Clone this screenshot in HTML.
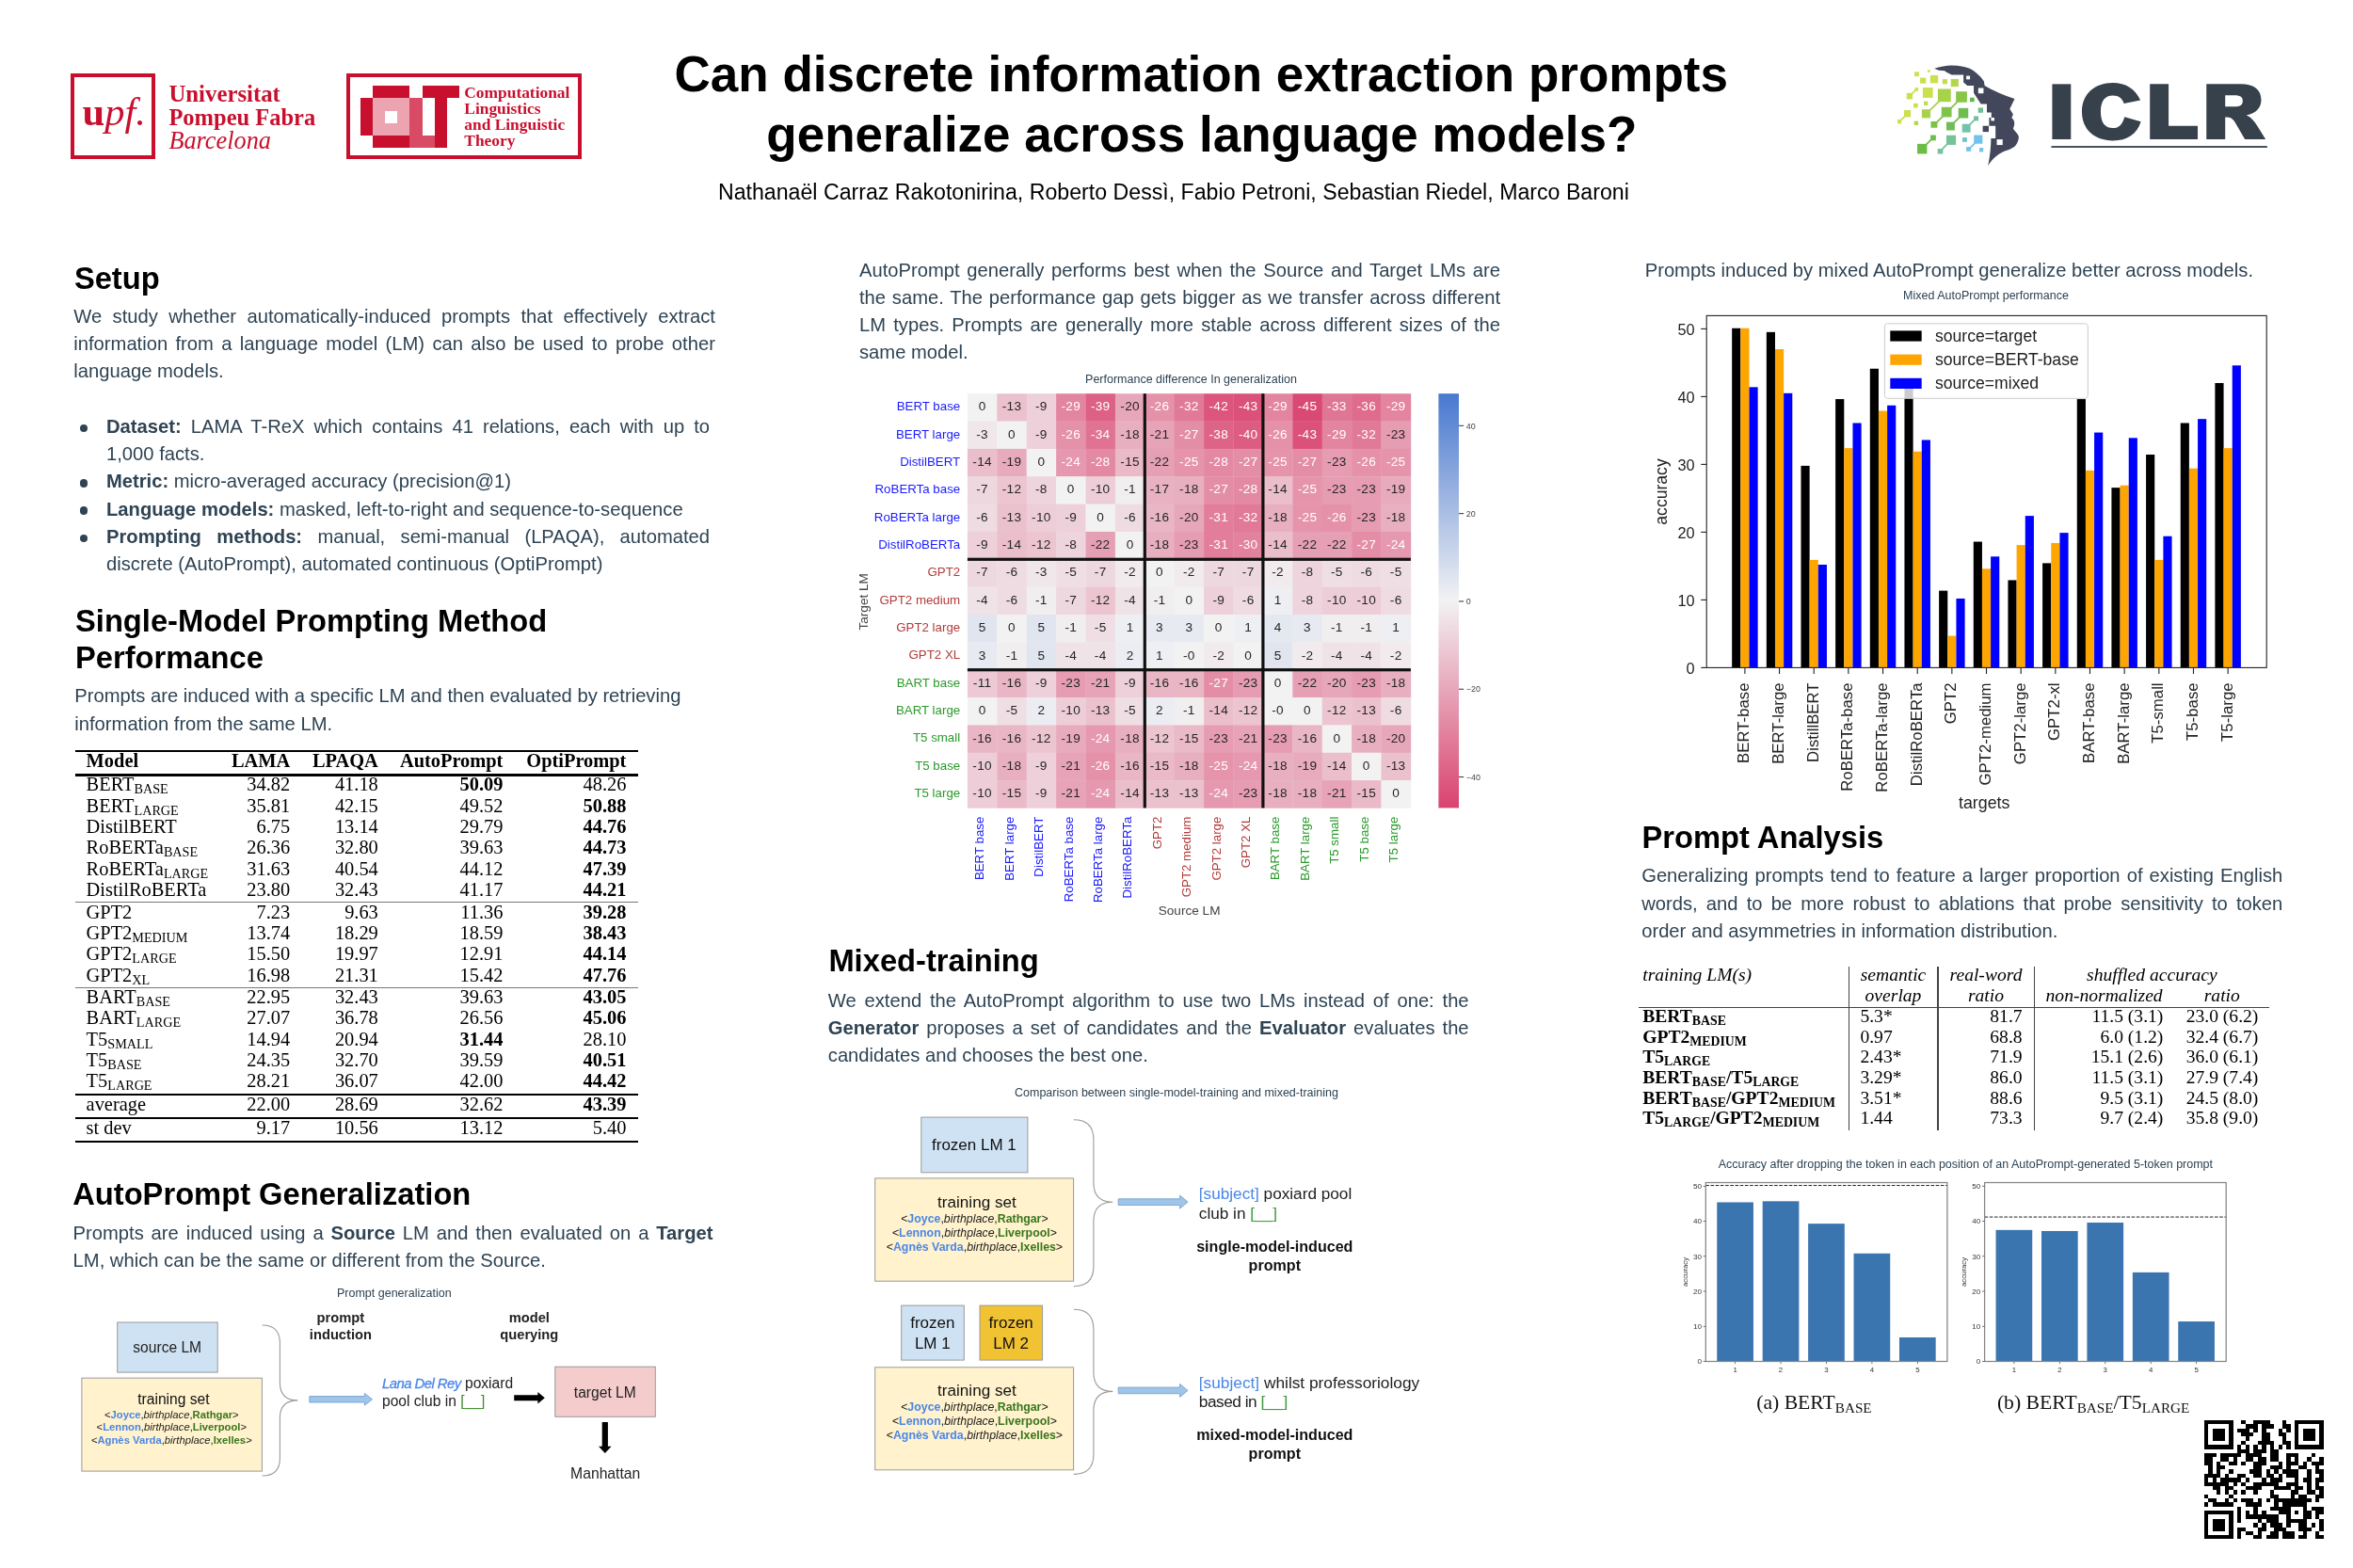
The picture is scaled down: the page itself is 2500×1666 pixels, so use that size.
<!DOCTYPE html>
<html><head><meta charset="utf-8"><title>Poster</title>
<style>
html,body{margin:0;padding:0;background:#fff;}
body{width:2500px;height:1666px;position:relative;overflow:hidden;font-family:"Liberation Sans",sans-serif;}
div{box-sizing:content-box;}
b{font-weight:bold;}
</style></head><body>
<div id="poster" style="position:absolute;left:0;top:0;width:2500px;height:1666px;overflow:hidden;will-change:transform;">
<!-- header -->
<div style="position:absolute;left:75.3px;top:78.3px;width:89.6px;height:91px;box-sizing:border-box;border:4.3px solid #c8102e;"></div>
<div style="position:absolute;left:87.50px;top:92.76px;white-space:nowrap;font-family:'Liberation Serif', serif;font-size:42.5px;line-height:51.0px;color:#c8102e;font-weight:normal;font-style:italic;text-align:left;letter-spacing:0px;"><span style="font-weight:bold;font-style:normal">u</span>pf.</div>
<div style="position:absolute;left:179.40px;top:84.95px;white-space:nowrap;font-family:'Liberation Serif', serif;font-size:24.8px;line-height:29.76px;color:#c8102e;font-weight:bold;font-style:normal;text-align:left;">Universitat</div>
<div style="position:absolute;left:179.40px;top:109.63px;white-space:nowrap;font-family:'Liberation Serif', serif;font-size:24.5px;line-height:29.4px;color:#c8102e;font-weight:bold;font-style:normal;text-align:left;">Pompeu Fabra</div>
<div style="position:absolute;left:179.40px;top:133.54px;white-space:nowrap;font-family:'Liberation Serif', serif;font-size:26.3px;line-height:31.56px;color:#c8102e;font-weight:normal;font-style:italic;text-align:left;">Barcelona</div>
<div style="position:absolute;left:368px;top:78.3px;width:249.8px;height:91px;box-sizing:border-box;border:4.6px solid #c8102e;"></div>
<div style="position:absolute;left:395.80px;top:91.10px;width:39.60px;height:13.20px;background:#c8102e;"></div>
<div style="position:absolute;left:382.60px;top:104.30px;width:13.20px;height:39.60px;background:#c8102e;"></div>
<div style="position:absolute;left:395.80px;top:104.30px;width:39.60px;height:39.60px;background:#eba4b0;"></div>
<div style="position:absolute;left:409.00px;top:117.50px;width:13.20px;height:13.20px;background:#fff;"></div>
<div style="position:absolute;left:395.80px;top:143.90px;width:39.60px;height:13.20px;background:#c8102e;"></div>
<div style="position:absolute;left:435.40px;top:104.30px;width:13.20px;height:52.80px;background:#d94a64;"></div>
<div style="position:absolute;left:435.40px;top:143.90px;width:26.40px;height:13.20px;background:#d94a64;"></div>
<div style="position:absolute;left:448.60px;top:91.10px;width:39.60px;height:13.20px;background:#c8102e;"></div>
<div style="position:absolute;left:461.80px;top:91.10px;width:13.20px;height:66.00px;background:#c8102e;"></div>
<div style="position:absolute;left:493.30px;top:87.89px;white-space:nowrap;font-family:'Liberation Serif', serif;font-size:17.4px;line-height:20.88px;color:#c8102e;font-weight:bold;font-style:normal;text-align:left;">Computational</div>
<div style="position:absolute;left:493.30px;top:104.99px;white-space:nowrap;font-family:'Liberation Serif', serif;font-size:17.4px;line-height:20.88px;color:#c8102e;font-weight:bold;font-style:normal;text-align:left;">Linguistics</div>
<div style="position:absolute;left:493.30px;top:122.09px;white-space:nowrap;font-family:'Liberation Serif', serif;font-size:17.4px;line-height:20.88px;color:#c8102e;font-weight:bold;font-style:normal;text-align:left;">and Linguistic</div>
<div style="position:absolute;left:493.30px;top:139.19px;white-space:nowrap;font-family:'Liberation Serif', serif;font-size:17.4px;line-height:20.88px;color:#c8102e;font-weight:bold;font-style:normal;text-align:left;">Theory</div>
<div style="position:absolute;left:676.30px;top:47.42px;width:1200px;font-family:'Liberation Sans', sans-serif;font-size:53.02px;line-height:63.62px;color:#000;font-weight:bold;font-style:normal;text-align:center;">Can discrete information extraction prompts</div>
<div style="position:absolute;left:676.90px;top:111.02px;width:1200px;font-family:'Liberation Sans', sans-serif;font-size:53.02px;line-height:63.62px;color:#000;font-weight:bold;font-style:normal;text-align:center;">generalize across language models?</div>
<div style="position:absolute;left:646.90px;top:190.68px;width:1200px;font-family:'Liberation Sans', sans-serif;font-size:23.16px;line-height:27.79px;color:#000;font-weight:normal;font-style:normal;text-align:center;">Nathanaël Carraz Rakotonirina, Roberto Dessì, Fabio Petroni, Sebastian Riedel, Marco Baroni</div>
<svg style="position:absolute;left:2170px;top:75px;width:250px;height:90px" viewBox="0 0 2353 847"><rect x="98" y="135" width="187" height="552" fill="#37414c"/><path fill="#37414c" d="M980,297 C930,180 830,122 705,122 C520,122 395,235 395,410 C395,590 520,700 705,700 C850,700 945,635 985,510 L822,463 C800,540 765,575 705,575 C625,575 583,520 583,410 C583,305 625,250 705,250 C765,250 800,280 815,330 Z"/><path fill="#37414c" d="M1075,135 L1262,135 L1262,552 L1553,552 L1553,687 L1075,687 Z"/><path fill="#37414c" fill-rule="evenodd" d="M1640,135 L1985,135 C2120,135 2188,195 2188,295 C2188,375 2135,430 2040,447 C2085,465 2120,505 2150,555 L2232,687 L2025,687 L1925,515 C1900,475 1880,465 1828,465 L1828,687 L1640,687 Z M1828,248 L1920,248 C1985,248 2003,270 2003,303 C2003,340 1985,360 1915,360 L1828,360 Z"/><rect x="88" y="752" width="2162" height="20" rx="8" fill="#4a525d"/></svg>
<!-- iclr -->
<svg style="position:absolute;left:2005px;top:60px;width:150px;height:125px" viewBox="0 0 1882 1568">
<path fill="#42475b" d="M630,160 C700,135 790,118 860,118 C960,118 1040,135 1100,160 C1180,200 1250,270 1290,330 L1300,390 C1400,450 1560,520 1700,565 L1635,700 L1680,770 L1660,820 C1700,850 1710,900 1680,960 C1700,1000 1760,1040 1755,1085 C1750,1130 1730,1170 1700,1200 C1660,1230 1610,1245 1560,1265 C1480,1300 1400,1370 1345,1455 C1370,1340 1385,1200 1385,1090 L1445,1090 L1445,925 L1360,925 L1360,815 L1390,815 L1390,745 L1330,745 L1330,632 L1250,632 L1155,485 L1155,388 L1070,388 L1018,345 L1018,245 L860,245 L780,205 L770,190 L690,185 Z"/>
<rect x="1055" y="258" width="50" height="47" fill="#fff"/>
<rect x="1215" y="420" width="70" height="72" fill="#fff"/>
<rect x="1385" y="815" width="45" height="43" fill="#fff"/>
<rect x="1462" y="1105" width="78" height="75" fill="#fff"/>
<rect x="1275" y="925" width="80" height="80" fill="#42475b"/>
<line x1="392" y1="437" x2="300" y2="528" stroke="#cbe04c" stroke-width="22"/>
<line x1="700" y1="590" x2="560" y2="725" stroke="#a9d24b" stroke-width="22"/>
<line x1="940" y1="600" x2="840" y2="700" stroke="#88c648" stroke-width="22"/>
<line x1="745" y1="795" x2="650" y2="890" stroke="#7cc247" stroke-width="22"/>
<line x1="965" y1="810" x2="880" y2="895" stroke="#6fbd55" stroke-width="22"/>
<line x1="245" y1="790" x2="165" y2="867" stroke="#cbe04c" stroke-width="22"/>
<line x1="1180" y1="830" x2="1090" y2="920" stroke="#72c2a4" stroke-width="22"/>
<line x1="600" y1="1095" x2="510" y2="1185" stroke="#6cbd49" stroke-width="22"/>
<line x1="810" y1="1160" x2="720" y2="1250" stroke="#76c39c" stroke-width="22"/>
<line x1="1175" y1="1150" x2="1095" y2="1230" stroke="#72c3e9" stroke-width="22"/>
<rect x="365" y="205" width="60" height="60" fill="#cbe04c"/>
<rect x="540" y="178" width="33" height="34" fill="#cde24f"/>
<rect x="440" y="283" width="78" height="77" fill="#cbe04c"/>
<rect x="575" y="250" width="105" height="105" fill="#cbe04c"/>
<rect x="737" y="303" width="66" height="65" fill="#c3dd4d"/>
<rect x="850" y="300" width="102" height="102" fill="#b3d64b"/>
<rect x="370" y="415" width="45" height="45" fill="#cbe04c"/>
<rect x="260" y="487" width="80" height="83" fill="#cbe04c"/>
<rect x="475" y="415" width="135" height="135" fill="#cbe04c"/>
<rect x="677" y="432" width="173" height="173" fill="#a9d24b"/>
<rect x="918" y="467" width="147" height="145" fill="#88c648"/>
<rect x="1105" y="548" width="58" height="57" fill="#5cb848"/>
<rect x="352" y="625" width="58" height="58" fill="#cbe04c"/>
<rect x="490" y="598" width="53" height="54" fill="#bfdc4c"/>
<rect x="463" y="705" width="115" height="115" fill="#a9d24b"/>
<rect x="725" y="675" width="135" height="133" fill="#7fc34a"/>
<rect x="950" y="688" width="132" height="134" fill="#6fbd50"/>
<rect x="1213" y="683" width="67" height="67" fill="#6ec08e"/>
<rect x="225" y="715" width="90" height="93" fill="#cbe04c"/>
<rect x="138" y="840" width="52" height="55" fill="#cbe04c"/>
<rect x="360" y="862" width="55" height="53" fill="#b3d64b"/>
<rect x="583" y="865" width="87" height="85" fill="#7cc247"/>
<rect x="790" y="873" width="112" height="112" fill="#6fbd58"/>
<rect x="1155" y="795" width="63" height="63" fill="#72c2a0"/>
<rect x="1000" y="900" width="112" height="112" fill="#72c3aa"/>
<rect x="578" y="1048" width="72" height="72" fill="#6fbd4c"/>
<rect x="402" y="1165" width="130" height="133" fill="#6abd47"/>
<rect x="790" y="1050" width="127" height="128" fill="#76c39a"/>
<rect x="673" y="1230" width="72" height="68" fill="#76c3a0"/>
<rect x="1005" y="1080" width="60" height="60" fill="#72c3c0"/>
<rect x="1157" y="1048" width="115" height="115" fill="#72c3e8"/>
<rect x="1055" y="1205" width="63" height="60" fill="#72c3ea"/>
<rect x="1230" y="1218" width="52" height="54" fill="#72c3ea"/>
</svg>
<!-- left -->
<div style="position:absolute;left:78.90px;top:275.57px;white-space:nowrap;font-family:'Liberation Sans', sans-serif;font-size:32.7px;line-height:40px;color:#000;font-weight:bold;font-style:normal;text-align:left;">Setup</div>
<div style="position:absolute;left:78.30px;top:322.00px;width:681.6px;font-family:'Liberation Sans', sans-serif;font-size:20.2px;line-height:29.2px;color:#2e4353;font-weight:normal;font-style:normal;text-align:justify;text-align-last:justify;white-space:nowrap;">We study whether automatically-induced prompts that effectively extract</div>
<div style="position:absolute;left:78.30px;top:351.20px;width:681.6px;font-family:'Liberation Sans', sans-serif;font-size:20.2px;line-height:29.2px;color:#2e4353;font-weight:normal;font-style:normal;text-align:justify;text-align-last:justify;white-space:nowrap;">information from a language model (LM) can also be used to probe other</div>
<div style="position:absolute;left:78.30px;top:380.40px;width:681.6px;font-family:'Liberation Sans', sans-serif;font-size:20.2px;line-height:29.2px;color:#2e4353;font-weight:normal;font-style:normal;text-align:left;white-space:nowrap;">language models.</div>
<div style="position:absolute;left:113.00px;top:439.20px;width:641px;font-family:'Liberation Sans', sans-serif;font-size:20.2px;line-height:29.2px;color:#2e4353;font-weight:normal;font-style:normal;text-align:justify;text-align-last:justify;white-space:nowrap;"><b>Dataset:</b> LAMA T-ReX which contains 41 relations, each with up to</div>
<div style="position:absolute;left:113.00px;top:468.40px;width:641px;font-family:'Liberation Sans', sans-serif;font-size:20.2px;line-height:29.2px;color:#2e4353;font-weight:normal;font-style:normal;text-align:left;white-space:nowrap;">1,000 facts.</div>
<div style="position:absolute;left:84.80px;top:450.80px;width:8.6px;height:8.6px;border-radius:50%;background:#2e4353"></div>
<div style="position:absolute;left:113.00px;top:497.40px;width:641px;font-family:'Liberation Sans', sans-serif;font-size:20.2px;line-height:29.2px;color:#2e4353;font-weight:normal;font-style:normal;text-align:left;white-space:nowrap;"><b>Metric:</b> micro-averaged accuracy (precision@1)</div>
<div style="position:absolute;left:84.80px;top:509.00px;width:8.6px;height:8.6px;border-radius:50%;background:#2e4353"></div>
<div style="position:absolute;left:113.00px;top:526.60px;width:641px;font-family:'Liberation Sans', sans-serif;font-size:20.2px;line-height:29.2px;color:#2e4353;font-weight:normal;font-style:normal;text-align:left;white-space:nowrap;"><b>Language models:</b> masked, left-to-right and sequence-to-sequence</div>
<div style="position:absolute;left:84.80px;top:538.20px;width:8.6px;height:8.6px;border-radius:50%;background:#2e4353"></div>
<div style="position:absolute;left:113.00px;top:555.90px;width:641px;font-family:'Liberation Sans', sans-serif;font-size:20.2px;line-height:29.2px;color:#2e4353;font-weight:normal;font-style:normal;text-align:justify;text-align-last:justify;white-space:nowrap;"><b>Prompting methods:</b> manual, semi-manual (LPAQA), automated</div>
<div style="position:absolute;left:113.00px;top:585.10px;width:641px;font-family:'Liberation Sans', sans-serif;font-size:20.2px;line-height:29.2px;color:#2e4353;font-weight:normal;font-style:normal;text-align:left;white-space:nowrap;">discrete (AutoPrompt), automated continuous (OptiPrompt)</div>
<div style="position:absolute;left:84.80px;top:567.50px;width:8.6px;height:8.6px;border-radius:50%;background:#2e4353"></div>
<div style="position:absolute;left:80.00px;top:639.57px;white-space:nowrap;font-family:'Liberation Sans', sans-serif;font-size:32.7px;line-height:40px;color:#000;font-weight:bold;font-style:normal;text-align:left;">Single-Model Prompting Method</div>
<div style="position:absolute;left:80.00px;top:679.07px;white-space:nowrap;font-family:'Liberation Sans', sans-serif;font-size:32.7px;line-height:40px;color:#000;font-weight:bold;font-style:normal;text-align:left;">Performance</div>
<div style="position:absolute;left:79.30px;top:725.30px;width:690px;font-family:'Liberation Sans', sans-serif;font-size:20.2px;line-height:29.2px;color:#2e4353;font-weight:normal;font-style:normal;text-align:left;white-space:nowrap;">Prompts are induced with a specific LM and then evaluated by retrieving</div>
<div style="position:absolute;left:79.30px;top:754.50px;width:690px;font-family:'Liberation Sans', sans-serif;font-size:20.2px;line-height:29.2px;color:#2e4353;font-weight:normal;font-style:normal;text-align:left;white-space:nowrap;">information from the same LM.</div>
<div style="position:absolute;left:79.50px;top:796.55px;width:598.40px;height:2.70px;background:#000;"></div>
<div style="position:absolute;left:79.50px;top:821.85px;width:598.40px;height:2.70px;background:#000;"></div>
<div style="position:absolute;left:79.50px;top:958.20px;width:598.40px;height:1.20px;background:#777;"></div>
<div style="position:absolute;left:79.50px;top:1048.60px;width:598.40px;height:1.20px;background:#777;"></div>
<div style="position:absolute;left:79.50px;top:1162.25px;width:598.40px;height:1.90px;background:#000;"></div>
<div style="position:absolute;left:79.50px;top:1186.60px;width:598.40px;height:2.00px;background:#000;"></div>
<div style="position:absolute;left:79.50px;top:1211.70px;width:598.40px;height:2.20px;background:#000;"></div>
<div style="position:absolute;left:91.60px;top:795.77px;white-space:nowrap;font-family:'Liberation Serif', serif;font-size:20.4px;line-height:24.48px;color:#000;font-weight:bold;font-style:normal;text-align:left;">Model</div>
<div style="position:absolute;left:-291.80px;top:795.77px;width:600px;font-family:'Liberation Serif', serif;font-size:20.4px;line-height:24.48px;color:#000;font-weight:bold;font-style:normal;text-align:right;">LAMA</div>
<div style="position:absolute;left:-198.20px;top:795.77px;width:600px;font-family:'Liberation Serif', serif;font-size:20.4px;line-height:24.48px;color:#000;font-weight:bold;font-style:normal;text-align:right;">LPAQA</div>
<div style="position:absolute;left:-65.60px;top:795.77px;width:600px;font-family:'Liberation Serif', serif;font-size:20.4px;line-height:24.48px;color:#000;font-weight:bold;font-style:normal;text-align:right;">AutoPrompt</div>
<div style="position:absolute;left:65.40px;top:795.77px;width:600px;font-family:'Liberation Serif', serif;font-size:20.4px;line-height:24.48px;color:#000;font-weight:bold;font-style:normal;text-align:right;">OptiPrompt</div>
<div style="position:absolute;left:91.60px;top:821.17px;white-space:nowrap;font-family:'Liberation Serif', serif;font-size:20.4px;line-height:24.48px;color:#000;font-weight:normal;font-style:normal;text-align:left;">BERT<span style="font-size:14.2px;position:relative;top:3.0px;line-height:0">BASE</span></div>
<div style="position:absolute;left:-291.80px;top:821.17px;width:600px;font-family:'Liberation Serif', serif;font-size:20.4px;line-height:24.48px;color:#000;font-weight:normal;font-style:normal;text-align:right;">34.82</div>
<div style="position:absolute;left:-198.20px;top:821.17px;width:600px;font-family:'Liberation Serif', serif;font-size:20.4px;line-height:24.48px;color:#000;font-weight:normal;font-style:normal;text-align:right;">41.18</div>
<div style="position:absolute;left:-65.60px;top:821.17px;width:600px;font-family:'Liberation Serif', serif;font-size:20.4px;line-height:24.48px;color:#000;font-weight:bold;font-style:normal;text-align:right;">50.09</div>
<div style="position:absolute;left:65.40px;top:821.17px;width:600px;font-family:'Liberation Serif', serif;font-size:20.4px;line-height:24.48px;color:#000;font-weight:normal;font-style:normal;text-align:right;">48.26</div>
<div style="position:absolute;left:91.60px;top:843.58px;white-space:nowrap;font-family:'Liberation Serif', serif;font-size:20.4px;line-height:24.48px;color:#000;font-weight:normal;font-style:normal;text-align:left;">BERT<span style="font-size:14.2px;position:relative;top:3.0px;line-height:0">LARGE</span></div>
<div style="position:absolute;left:-291.80px;top:843.58px;width:600px;font-family:'Liberation Serif', serif;font-size:20.4px;line-height:24.48px;color:#000;font-weight:normal;font-style:normal;text-align:right;">35.81</div>
<div style="position:absolute;left:-198.20px;top:843.58px;width:600px;font-family:'Liberation Serif', serif;font-size:20.4px;line-height:24.48px;color:#000;font-weight:normal;font-style:normal;text-align:right;">42.15</div>
<div style="position:absolute;left:-65.60px;top:843.58px;width:600px;font-family:'Liberation Serif', serif;font-size:20.4px;line-height:24.48px;color:#000;font-weight:normal;font-style:normal;text-align:right;">49.52</div>
<div style="position:absolute;left:65.40px;top:843.58px;width:600px;font-family:'Liberation Serif', serif;font-size:20.4px;line-height:24.48px;color:#000;font-weight:bold;font-style:normal;text-align:right;">50.88</div>
<div style="position:absolute;left:91.60px;top:865.98px;white-space:nowrap;font-family:'Liberation Serif', serif;font-size:20.4px;line-height:24.48px;color:#000;font-weight:normal;font-style:normal;text-align:left;">DistilBERT</div>
<div style="position:absolute;left:-291.80px;top:865.98px;width:600px;font-family:'Liberation Serif', serif;font-size:20.4px;line-height:24.48px;color:#000;font-weight:normal;font-style:normal;text-align:right;">6.75</div>
<div style="position:absolute;left:-198.20px;top:865.98px;width:600px;font-family:'Liberation Serif', serif;font-size:20.4px;line-height:24.48px;color:#000;font-weight:normal;font-style:normal;text-align:right;">13.14</div>
<div style="position:absolute;left:-65.60px;top:865.98px;width:600px;font-family:'Liberation Serif', serif;font-size:20.4px;line-height:24.48px;color:#000;font-weight:normal;font-style:normal;text-align:right;">29.79</div>
<div style="position:absolute;left:65.40px;top:865.98px;width:600px;font-family:'Liberation Serif', serif;font-size:20.4px;line-height:24.48px;color:#000;font-weight:bold;font-style:normal;text-align:right;">44.76</div>
<div style="position:absolute;left:91.60px;top:888.27px;white-space:nowrap;font-family:'Liberation Serif', serif;font-size:20.4px;line-height:24.48px;color:#000;font-weight:normal;font-style:normal;text-align:left;">RoBERTa<span style="font-size:14.2px;position:relative;top:3.0px;line-height:0">BASE</span></div>
<div style="position:absolute;left:-291.80px;top:888.27px;width:600px;font-family:'Liberation Serif', serif;font-size:20.4px;line-height:24.48px;color:#000;font-weight:normal;font-style:normal;text-align:right;">26.36</div>
<div style="position:absolute;left:-198.20px;top:888.27px;width:600px;font-family:'Liberation Serif', serif;font-size:20.4px;line-height:24.48px;color:#000;font-weight:normal;font-style:normal;text-align:right;">32.80</div>
<div style="position:absolute;left:-65.60px;top:888.27px;width:600px;font-family:'Liberation Serif', serif;font-size:20.4px;line-height:24.48px;color:#000;font-weight:normal;font-style:normal;text-align:right;">39.63</div>
<div style="position:absolute;left:65.40px;top:888.27px;width:600px;font-family:'Liberation Serif', serif;font-size:20.4px;line-height:24.48px;color:#000;font-weight:bold;font-style:normal;text-align:right;">44.73</div>
<div style="position:absolute;left:91.60px;top:910.67px;white-space:nowrap;font-family:'Liberation Serif', serif;font-size:20.4px;line-height:24.48px;color:#000;font-weight:normal;font-style:normal;text-align:left;">RoBERTa<span style="font-size:14.2px;position:relative;top:3.0px;line-height:0">LARGE</span></div>
<div style="position:absolute;left:-291.80px;top:910.67px;width:600px;font-family:'Liberation Serif', serif;font-size:20.4px;line-height:24.48px;color:#000;font-weight:normal;font-style:normal;text-align:right;">31.63</div>
<div style="position:absolute;left:-198.20px;top:910.67px;width:600px;font-family:'Liberation Serif', serif;font-size:20.4px;line-height:24.48px;color:#000;font-weight:normal;font-style:normal;text-align:right;">40.54</div>
<div style="position:absolute;left:-65.60px;top:910.67px;width:600px;font-family:'Liberation Serif', serif;font-size:20.4px;line-height:24.48px;color:#000;font-weight:normal;font-style:normal;text-align:right;">44.12</div>
<div style="position:absolute;left:65.40px;top:910.67px;width:600px;font-family:'Liberation Serif', serif;font-size:20.4px;line-height:24.48px;color:#000;font-weight:bold;font-style:normal;text-align:right;">47.39</div>
<div style="position:absolute;left:91.60px;top:933.08px;white-space:nowrap;font-family:'Liberation Serif', serif;font-size:20.4px;line-height:24.48px;color:#000;font-weight:normal;font-style:normal;text-align:left;">DistilRoBERTa</div>
<div style="position:absolute;left:-291.80px;top:933.08px;width:600px;font-family:'Liberation Serif', serif;font-size:20.4px;line-height:24.48px;color:#000;font-weight:normal;font-style:normal;text-align:right;">23.80</div>
<div style="position:absolute;left:-198.20px;top:933.08px;width:600px;font-family:'Liberation Serif', serif;font-size:20.4px;line-height:24.48px;color:#000;font-weight:normal;font-style:normal;text-align:right;">32.43</div>
<div style="position:absolute;left:-65.60px;top:933.08px;width:600px;font-family:'Liberation Serif', serif;font-size:20.4px;line-height:24.48px;color:#000;font-weight:normal;font-style:normal;text-align:right;">41.17</div>
<div style="position:absolute;left:65.40px;top:933.08px;width:600px;font-family:'Liberation Serif', serif;font-size:20.4px;line-height:24.48px;color:#000;font-weight:bold;font-style:normal;text-align:right;">44.21</div>
<div style="position:absolute;left:91.60px;top:956.67px;white-space:nowrap;font-family:'Liberation Serif', serif;font-size:20.4px;line-height:24.48px;color:#000;font-weight:normal;font-style:normal;text-align:left;">GPT2</div>
<div style="position:absolute;left:-291.80px;top:956.67px;width:600px;font-family:'Liberation Serif', serif;font-size:20.4px;line-height:24.48px;color:#000;font-weight:normal;font-style:normal;text-align:right;">7.23</div>
<div style="position:absolute;left:-198.20px;top:956.67px;width:600px;font-family:'Liberation Serif', serif;font-size:20.4px;line-height:24.48px;color:#000;font-weight:normal;font-style:normal;text-align:right;">9.63</div>
<div style="position:absolute;left:-65.60px;top:956.67px;width:600px;font-family:'Liberation Serif', serif;font-size:20.4px;line-height:24.48px;color:#000;font-weight:normal;font-style:normal;text-align:right;">11.36</div>
<div style="position:absolute;left:65.40px;top:956.67px;width:600px;font-family:'Liberation Serif', serif;font-size:20.4px;line-height:24.48px;color:#000;font-weight:bold;font-style:normal;text-align:right;">39.28</div>
<div style="position:absolute;left:91.60px;top:978.98px;white-space:nowrap;font-family:'Liberation Serif', serif;font-size:20.4px;line-height:24.48px;color:#000;font-weight:normal;font-style:normal;text-align:left;">GPT2<span style="font-size:14.2px;position:relative;top:3.0px;line-height:0">MEDIUM</span></div>
<div style="position:absolute;left:-291.80px;top:978.98px;width:600px;font-family:'Liberation Serif', serif;font-size:20.4px;line-height:24.48px;color:#000;font-weight:normal;font-style:normal;text-align:right;">13.74</div>
<div style="position:absolute;left:-198.20px;top:978.98px;width:600px;font-family:'Liberation Serif', serif;font-size:20.4px;line-height:24.48px;color:#000;font-weight:normal;font-style:normal;text-align:right;">18.29</div>
<div style="position:absolute;left:-65.60px;top:978.98px;width:600px;font-family:'Liberation Serif', serif;font-size:20.4px;line-height:24.48px;color:#000;font-weight:normal;font-style:normal;text-align:right;">18.59</div>
<div style="position:absolute;left:65.40px;top:978.98px;width:600px;font-family:'Liberation Serif', serif;font-size:20.4px;line-height:24.48px;color:#000;font-weight:bold;font-style:normal;text-align:right;">38.43</div>
<div style="position:absolute;left:91.60px;top:1001.38px;white-space:nowrap;font-family:'Liberation Serif', serif;font-size:20.4px;line-height:24.48px;color:#000;font-weight:normal;font-style:normal;text-align:left;">GPT2<span style="font-size:14.2px;position:relative;top:3.0px;line-height:0">LARGE</span></div>
<div style="position:absolute;left:-291.80px;top:1001.38px;width:600px;font-family:'Liberation Serif', serif;font-size:20.4px;line-height:24.48px;color:#000;font-weight:normal;font-style:normal;text-align:right;">15.50</div>
<div style="position:absolute;left:-198.20px;top:1001.38px;width:600px;font-family:'Liberation Serif', serif;font-size:20.4px;line-height:24.48px;color:#000;font-weight:normal;font-style:normal;text-align:right;">19.97</div>
<div style="position:absolute;left:-65.60px;top:1001.38px;width:600px;font-family:'Liberation Serif', serif;font-size:20.4px;line-height:24.48px;color:#000;font-weight:normal;font-style:normal;text-align:right;">12.91</div>
<div style="position:absolute;left:65.40px;top:1001.38px;width:600px;font-family:'Liberation Serif', serif;font-size:20.4px;line-height:24.48px;color:#000;font-weight:bold;font-style:normal;text-align:right;">44.14</div>
<div style="position:absolute;left:91.60px;top:1023.78px;white-space:nowrap;font-family:'Liberation Serif', serif;font-size:20.4px;line-height:24.48px;color:#000;font-weight:normal;font-style:normal;text-align:left;">GPT2<span style="font-size:14.2px;position:relative;top:3.0px;line-height:0">XL</span></div>
<div style="position:absolute;left:-291.80px;top:1023.78px;width:600px;font-family:'Liberation Serif', serif;font-size:20.4px;line-height:24.48px;color:#000;font-weight:normal;font-style:normal;text-align:right;">16.98</div>
<div style="position:absolute;left:-198.20px;top:1023.78px;width:600px;font-family:'Liberation Serif', serif;font-size:20.4px;line-height:24.48px;color:#000;font-weight:normal;font-style:normal;text-align:right;">21.31</div>
<div style="position:absolute;left:-65.60px;top:1023.78px;width:600px;font-family:'Liberation Serif', serif;font-size:20.4px;line-height:24.48px;color:#000;font-weight:normal;font-style:normal;text-align:right;">15.42</div>
<div style="position:absolute;left:65.40px;top:1023.78px;width:600px;font-family:'Liberation Serif', serif;font-size:20.4px;line-height:24.48px;color:#000;font-weight:bold;font-style:normal;text-align:right;">47.76</div>
<div style="position:absolute;left:91.60px;top:1046.78px;white-space:nowrap;font-family:'Liberation Serif', serif;font-size:20.4px;line-height:24.48px;color:#000;font-weight:normal;font-style:normal;text-align:left;">BART<span style="font-size:14.2px;position:relative;top:3.0px;line-height:0">BASE</span></div>
<div style="position:absolute;left:-291.80px;top:1046.78px;width:600px;font-family:'Liberation Serif', serif;font-size:20.4px;line-height:24.48px;color:#000;font-weight:normal;font-style:normal;text-align:right;">22.95</div>
<div style="position:absolute;left:-198.20px;top:1046.78px;width:600px;font-family:'Liberation Serif', serif;font-size:20.4px;line-height:24.48px;color:#000;font-weight:normal;font-style:normal;text-align:right;">32.43</div>
<div style="position:absolute;left:-65.60px;top:1046.78px;width:600px;font-family:'Liberation Serif', serif;font-size:20.4px;line-height:24.48px;color:#000;font-weight:normal;font-style:normal;text-align:right;">39.63</div>
<div style="position:absolute;left:65.40px;top:1046.78px;width:600px;font-family:'Liberation Serif', serif;font-size:20.4px;line-height:24.48px;color:#000;font-weight:bold;font-style:normal;text-align:right;">43.05</div>
<div style="position:absolute;left:91.60px;top:1069.17px;white-space:nowrap;font-family:'Liberation Serif', serif;font-size:20.4px;line-height:24.48px;color:#000;font-weight:normal;font-style:normal;text-align:left;">BART<span style="font-size:14.2px;position:relative;top:3.0px;line-height:0">LARGE</span></div>
<div style="position:absolute;left:-291.80px;top:1069.17px;width:600px;font-family:'Liberation Serif', serif;font-size:20.4px;line-height:24.48px;color:#000;font-weight:normal;font-style:normal;text-align:right;">27.07</div>
<div style="position:absolute;left:-198.20px;top:1069.17px;width:600px;font-family:'Liberation Serif', serif;font-size:20.4px;line-height:24.48px;color:#000;font-weight:normal;font-style:normal;text-align:right;">36.78</div>
<div style="position:absolute;left:-65.60px;top:1069.17px;width:600px;font-family:'Liberation Serif', serif;font-size:20.4px;line-height:24.48px;color:#000;font-weight:normal;font-style:normal;text-align:right;">26.56</div>
<div style="position:absolute;left:65.40px;top:1069.17px;width:600px;font-family:'Liberation Serif', serif;font-size:20.4px;line-height:24.48px;color:#000;font-weight:bold;font-style:normal;text-align:right;">45.06</div>
<div style="position:absolute;left:91.60px;top:1091.58px;white-space:nowrap;font-family:'Liberation Serif', serif;font-size:20.4px;line-height:24.48px;color:#000;font-weight:normal;font-style:normal;text-align:left;">T5<span style="font-size:14.2px;position:relative;top:3.0px;line-height:0">SMALL</span></div>
<div style="position:absolute;left:-291.80px;top:1091.58px;width:600px;font-family:'Liberation Serif', serif;font-size:20.4px;line-height:24.48px;color:#000;font-weight:normal;font-style:normal;text-align:right;">14.94</div>
<div style="position:absolute;left:-198.20px;top:1091.58px;width:600px;font-family:'Liberation Serif', serif;font-size:20.4px;line-height:24.48px;color:#000;font-weight:normal;font-style:normal;text-align:right;">20.94</div>
<div style="position:absolute;left:-65.60px;top:1091.58px;width:600px;font-family:'Liberation Serif', serif;font-size:20.4px;line-height:24.48px;color:#000;font-weight:bold;font-style:normal;text-align:right;">31.44</div>
<div style="position:absolute;left:65.40px;top:1091.58px;width:600px;font-family:'Liberation Serif', serif;font-size:20.4px;line-height:24.48px;color:#000;font-weight:normal;font-style:normal;text-align:right;">28.10</div>
<div style="position:absolute;left:91.60px;top:1113.88px;white-space:nowrap;font-family:'Liberation Serif', serif;font-size:20.4px;line-height:24.48px;color:#000;font-weight:normal;font-style:normal;text-align:left;">T5<span style="font-size:14.2px;position:relative;top:3.0px;line-height:0">BASE</span></div>
<div style="position:absolute;left:-291.80px;top:1113.88px;width:600px;font-family:'Liberation Serif', serif;font-size:20.4px;line-height:24.48px;color:#000;font-weight:normal;font-style:normal;text-align:right;">24.35</div>
<div style="position:absolute;left:-198.20px;top:1113.88px;width:600px;font-family:'Liberation Serif', serif;font-size:20.4px;line-height:24.48px;color:#000;font-weight:normal;font-style:normal;text-align:right;">32.70</div>
<div style="position:absolute;left:-65.60px;top:1113.88px;width:600px;font-family:'Liberation Serif', serif;font-size:20.4px;line-height:24.48px;color:#000;font-weight:normal;font-style:normal;text-align:right;">39.59</div>
<div style="position:absolute;left:65.40px;top:1113.88px;width:600px;font-family:'Liberation Serif', serif;font-size:20.4px;line-height:24.48px;color:#000;font-weight:bold;font-style:normal;text-align:right;">40.51</div>
<div style="position:absolute;left:91.60px;top:1136.28px;white-space:nowrap;font-family:'Liberation Serif', serif;font-size:20.4px;line-height:24.48px;color:#000;font-weight:normal;font-style:normal;text-align:left;">T5<span style="font-size:14.2px;position:relative;top:3.0px;line-height:0">LARGE</span></div>
<div style="position:absolute;left:-291.80px;top:1136.28px;width:600px;font-family:'Liberation Serif', serif;font-size:20.4px;line-height:24.48px;color:#000;font-weight:normal;font-style:normal;text-align:right;">28.21</div>
<div style="position:absolute;left:-198.20px;top:1136.28px;width:600px;font-family:'Liberation Serif', serif;font-size:20.4px;line-height:24.48px;color:#000;font-weight:normal;font-style:normal;text-align:right;">36.07</div>
<div style="position:absolute;left:-65.60px;top:1136.28px;width:600px;font-family:'Liberation Serif', serif;font-size:20.4px;line-height:24.48px;color:#000;font-weight:normal;font-style:normal;text-align:right;">42.00</div>
<div style="position:absolute;left:65.40px;top:1136.28px;width:600px;font-family:'Liberation Serif', serif;font-size:20.4px;line-height:24.48px;color:#000;font-weight:bold;font-style:normal;text-align:right;">44.42</div>
<div style="position:absolute;left:91.60px;top:1161.28px;white-space:nowrap;font-family:'Liberation Serif', serif;font-size:20.4px;line-height:24.48px;color:#000;font-weight:normal;font-style:normal;text-align:left;">average</div>
<div style="position:absolute;left:-291.80px;top:1161.28px;width:600px;font-family:'Liberation Serif', serif;font-size:20.4px;line-height:24.48px;color:#000;font-weight:normal;font-style:normal;text-align:right;">22.00</div>
<div style="position:absolute;left:-198.20px;top:1161.28px;width:600px;font-family:'Liberation Serif', serif;font-size:20.4px;line-height:24.48px;color:#000;font-weight:normal;font-style:normal;text-align:right;">28.69</div>
<div style="position:absolute;left:-65.60px;top:1161.28px;width:600px;font-family:'Liberation Serif', serif;font-size:20.4px;line-height:24.48px;color:#000;font-weight:normal;font-style:normal;text-align:right;">32.62</div>
<div style="position:absolute;left:65.40px;top:1161.28px;width:600px;font-family:'Liberation Serif', serif;font-size:20.4px;line-height:24.48px;color:#000;font-weight:bold;font-style:normal;text-align:right;">43.39</div>
<div style="position:absolute;left:91.60px;top:1186.28px;white-space:nowrap;font-family:'Liberation Serif', serif;font-size:20.4px;line-height:24.48px;color:#000;font-weight:normal;font-style:normal;text-align:left;">st dev</div>
<div style="position:absolute;left:-291.80px;top:1186.28px;width:600px;font-family:'Liberation Serif', serif;font-size:20.4px;line-height:24.48px;color:#000;font-weight:normal;font-style:normal;text-align:right;">9.17</div>
<div style="position:absolute;left:-198.20px;top:1186.28px;width:600px;font-family:'Liberation Serif', serif;font-size:20.4px;line-height:24.48px;color:#000;font-weight:normal;font-style:normal;text-align:right;">10.56</div>
<div style="position:absolute;left:-65.60px;top:1186.28px;width:600px;font-family:'Liberation Serif', serif;font-size:20.4px;line-height:24.48px;color:#000;font-weight:normal;font-style:normal;text-align:right;">13.12</div>
<div style="position:absolute;left:65.40px;top:1186.28px;width:600px;font-family:'Liberation Serif', serif;font-size:20.4px;line-height:24.48px;color:#000;font-weight:normal;font-style:normal;text-align:right;">5.40</div>
<div style="position:absolute;left:77.20px;top:1249.07px;white-space:nowrap;font-family:'Liberation Sans', sans-serif;font-size:32.7px;line-height:40px;color:#000;font-weight:bold;font-style:normal;text-align:left;">AutoPrompt Generalization</div>
<div style="position:absolute;left:77.60px;top:1295.80px;width:679.9px;font-family:'Liberation Sans', sans-serif;font-size:20.2px;line-height:29.2px;color:#2e4353;font-weight:normal;font-style:normal;text-align:justify;text-align-last:justify;white-space:nowrap;">Prompts are induced using a <b>Source</b> LM and then evaluated on a <b>Target</b></div>
<div style="position:absolute;left:77.60px;top:1325.00px;width:679.9px;font-family:'Liberation Sans', sans-serif;font-size:20.2px;line-height:29.2px;color:#2e4353;font-weight:normal;font-style:normal;text-align:left;white-space:nowrap;">LM, which can be the same or different from the Source.</div>
<div style="position:absolute;left:-181.20px;top:1366.87px;width:1200px;font-family:'Liberation Sans', sans-serif;font-size:12.5px;line-height:15.0px;color:#2e4353;font-weight:normal;font-style:normal;text-align:center;">Prompt generalization</div>
<!-- diag -->
<svg style="position:absolute;left:0;top:0;width:2500px;height:1666px" viewBox="0 0 2500 1666"><rect x="124.70" y="1405.00" width="106.50" height="53.10" fill="#cfe2f3" stroke="#9a9a9a" stroke-width="1"/><rect x="86.90" y="1464.20" width="191.50" height="98.90" fill="#fff2cc" stroke="#9a9a9a" stroke-width="1"/><rect x="589.80" y="1452.20" width="106.50" height="53.10" fill="#f4cccc" stroke="#9a9a9a" stroke-width="1"/><rect x="978.80" y="1187.10" width="113.10" height="58.70" fill="#cfe2f3" stroke="#9a9a9a" stroke-width="1"/><rect x="929.70" y="1251.90" width="210.90" height="109.30" fill="#fff2cc" stroke="#9a9a9a" stroke-width="1"/><rect x="957.70" y="1387.10" width="66.60" height="58.00" fill="#cfe2f3" stroke="#9a9a9a" stroke-width="1"/><rect x="1041.00" y="1387.10" width="66.60" height="58.00" fill="#f1c232" stroke="#9a9a9a" stroke-width="1"/><rect x="929.70" y="1452.80" width="210.90" height="109.00" fill="#fff2cc" stroke="#9a9a9a" stroke-width="1"/></svg>
<div style="position:absolute;left:-422.30px;top:1422.83px;width:1200px;font-family:'Liberation Sans', sans-serif;font-size:15.6px;line-height:18.72px;color:#222;font-weight:normal;font-style:normal;text-align:center;">source LM</div>
<div style="position:absolute;left:-415.60px;top:1477.63px;width:1200px;font-family:'Liberation Sans', sans-serif;font-size:15.6px;line-height:18.72px;color:#111;font-weight:normal;font-style:normal;text-align:center;">training set</div>
<div style="position:absolute;left:-417.70px;top:1496.55px;width:1200px;font-family:'Liberation Sans', sans-serif;font-size:11.25px;line-height:13.5px;color:#222;font-weight:normal;font-style:normal;text-align:center;">&lt;<b style="color:#4a86e8">Joyce</b>,<i>birthplace</i>,<b style="color:#38761d">Rathgar</b>&gt;</div>
<div style="position:absolute;left:-417.70px;top:1510.15px;width:1200px;font-family:'Liberation Sans', sans-serif;font-size:11.25px;line-height:13.5px;color:#222;font-weight:normal;font-style:normal;text-align:center;">&lt;<b style="color:#4a86e8">Lennon</b>,<i>birthplace</i>,<b style="color:#38761d">Liverpool</b>&gt;</div>
<div style="position:absolute;left:-417.70px;top:1523.75px;width:1200px;font-family:'Liberation Sans', sans-serif;font-size:11.25px;line-height:13.5px;color:#222;font-weight:normal;font-style:normal;text-align:center;">&lt;<b style="color:#4a86e8">Agnès Varda</b>,<i>birthplace</i>,<b style="color:#38761d">Ixelles</b>&gt;</div>
<div style="position:absolute;left:-238.10px;top:1391.69px;width:1200px;font-family:'Liberation Sans', sans-serif;font-size:14.7px;line-height:17.64px;color:#222;font-weight:bold;font-style:normal;text-align:center;">prompt</div>
<div style="position:absolute;left:-238.10px;top:1410.39px;width:1200px;font-family:'Liberation Sans', sans-serif;font-size:14.7px;line-height:17.64px;color:#222;font-weight:bold;font-style:normal;text-align:center;">induction</div>
<div style="position:absolute;left:-37.70px;top:1391.69px;width:1200px;font-family:'Liberation Sans', sans-serif;font-size:14.7px;line-height:17.64px;color:#222;font-weight:bold;font-style:normal;text-align:center;">model</div>
<div style="position:absolute;left:-37.70px;top:1410.39px;width:1200px;font-family:'Liberation Sans', sans-serif;font-size:14.7px;line-height:17.64px;color:#222;font-weight:bold;font-style:normal;text-align:center;">querying</div>
<div style="position:absolute;left:406.00px;top:1461.23px;white-space:nowrap;font-family:'Liberation Sans', sans-serif;font-size:15.6px;line-height:18.72px;color:#222;font-weight:normal;font-style:normal;text-align:left;"><i style="color:#4a86e8;font-size:14.9px;letter-spacing:-0.55px;-webkit-text-stroke:0.3px #4a86e8">Lana Del Rey</i> poxiard</div>
<div style="position:absolute;left:406.00px;top:1480.13px;white-space:nowrap;font-family:'Liberation Sans', sans-serif;font-size:15.6px;line-height:18.72px;color:#222;font-weight:normal;font-style:normal;text-align:left;">pool club in <span style="color:#3d8a2d">[__]</span></div>
<div style="position:absolute;left:42.80px;top:1470.83px;width:1200px;font-family:'Liberation Sans', sans-serif;font-size:15.6px;line-height:18.72px;color:#222;font-weight:normal;font-style:normal;text-align:center;">target LM</div>
<div style="position:absolute;left:43.20px;top:1557.14px;width:1200px;font-family:'Liberation Sans', sans-serif;font-size:15.7px;line-height:18.84px;color:#222;font-weight:normal;font-style:normal;text-align:center;">Manhattan</div>
<div style="position:absolute;left:434.90px;top:1207.31px;width:1200px;font-family:'Liberation Sans', sans-serif;font-size:17px;line-height:20.4px;color:#111;font-weight:normal;font-style:normal;text-align:center;">frozen LM 1</div>
<div style="position:absolute;left:437.90px;top:1267.71px;width:1200px;font-family:'Liberation Sans', sans-serif;font-size:17.1px;line-height:20.52px;color:#111;font-weight:normal;font-style:normal;text-align:center;">training set</div>
<div style="position:absolute;left:435.40px;top:1287.71px;width:1200px;font-family:'Liberation Sans', sans-serif;font-size:12.35px;line-height:14.82px;color:#222;font-weight:normal;font-style:normal;text-align:center;">&lt;<b style="color:#4a86e8">Joyce</b>,<i>birthplace</i>,<b style="color:#38761d">Rathgar</b>&gt;</div>
<div style="position:absolute;left:435.40px;top:1302.61px;width:1200px;font-family:'Liberation Sans', sans-serif;font-size:12.35px;line-height:14.82px;color:#222;font-weight:normal;font-style:normal;text-align:center;">&lt;<b style="color:#4a86e8">Lennon</b>,<i>birthplace</i>,<b style="color:#38761d">Liverpool</b>&gt;</div>
<div style="position:absolute;left:435.40px;top:1317.61px;width:1200px;font-family:'Liberation Sans', sans-serif;font-size:12.35px;line-height:14.82px;color:#222;font-weight:normal;font-style:normal;text-align:center;">&lt;<b style="color:#4a86e8">Agnès Varda</b>,<i>birthplace</i>,<b style="color:#38761d">Ixelles</b>&gt;</div>
<div style="position:absolute;left:1273.80px;top:1258.02px;white-space:nowrap;font-family:'Liberation Sans', sans-serif;font-size:17.2px;line-height:20.64px;color:#222;font-weight:normal;font-style:normal;text-align:left;"><span style="color:#4a86e8">[subject]</span> poxiard pool</div>
<div style="position:absolute;left:1273.80px;top:1278.92px;white-space:nowrap;font-family:'Liberation Sans', sans-serif;font-size:17.2px;line-height:20.64px;color:#222;font-weight:normal;font-style:normal;text-align:left;">club in <span style="color:#3d9a3d">[__]</span></div>
<div style="position:absolute;left:754.30px;top:1314.66px;width:1200px;font-family:'Liberation Sans', sans-serif;font-size:16.1px;line-height:19.32px;color:#111;font-weight:bold;font-style:normal;text-align:center;">single-model-induced</div>
<div style="position:absolute;left:754.30px;top:1335.46px;width:1200px;font-family:'Liberation Sans', sans-serif;font-size:16.1px;line-height:19.32px;color:#111;font-weight:bold;font-style:normal;text-align:center;">prompt</div>
<div style="position:absolute;left:390.80px;top:1396.41px;width:1200px;font-family:'Liberation Sans', sans-serif;font-size:17px;line-height:20.4px;color:#111;font-weight:normal;font-style:normal;text-align:center;">frozen</div>
<div style="position:absolute;left:390.80px;top:1417.51px;width:1200px;font-family:'Liberation Sans', sans-serif;font-size:17px;line-height:20.4px;color:#111;font-weight:normal;font-style:normal;text-align:center;">LM 1</div>
<div style="position:absolute;left:474.20px;top:1396.41px;width:1200px;font-family:'Liberation Sans', sans-serif;font-size:17px;line-height:20.4px;color:#111;font-weight:normal;font-style:normal;text-align:center;">frozen</div>
<div style="position:absolute;left:474.20px;top:1417.51px;width:1200px;font-family:'Liberation Sans', sans-serif;font-size:17px;line-height:20.4px;color:#111;font-weight:normal;font-style:normal;text-align:center;">LM 2</div>
<div style="position:absolute;left:437.90px;top:1467.81px;width:1200px;font-family:'Liberation Sans', sans-serif;font-size:17.1px;line-height:20.52px;color:#111;font-weight:normal;font-style:normal;text-align:center;">training set</div>
<div style="position:absolute;left:435.40px;top:1488.21px;width:1200px;font-family:'Liberation Sans', sans-serif;font-size:12.35px;line-height:14.82px;color:#222;font-weight:normal;font-style:normal;text-align:center;">&lt;<b style="color:#4a86e8">Joyce</b>,<i>birthplace</i>,<b style="color:#38761d">Rathgar</b>&gt;</div>
<div style="position:absolute;left:435.40px;top:1503.21px;width:1200px;font-family:'Liberation Sans', sans-serif;font-size:12.35px;line-height:14.82px;color:#222;font-weight:normal;font-style:normal;text-align:center;">&lt;<b style="color:#4a86e8">Lennon</b>,<i>birthplace</i>,<b style="color:#38761d">Liverpool</b>&gt;</div>
<div style="position:absolute;left:435.40px;top:1518.21px;width:1200px;font-family:'Liberation Sans', sans-serif;font-size:12.35px;line-height:14.82px;color:#222;font-weight:normal;font-style:normal;text-align:center;">&lt;<b style="color:#4a86e8">Agnès Varda</b>,<i>birthplace</i>,<b style="color:#38761d">Ixelles</b>&gt;</div>
<div style="position:absolute;left:1273.80px;top:1458.93px;white-space:nowrap;font-family:'Liberation Sans', sans-serif;font-size:17.3px;line-height:20.76px;color:#222;font-weight:normal;font-style:normal;text-align:left;"><span style="color:#4a86e8">[subject]</span> whilst professoriology</div>
<div style="position:absolute;left:1273.80px;top:1478.83px;white-space:nowrap;font-family:'Liberation Sans', sans-serif;font-size:17.3px;line-height:20.76px;color:#222;font-weight:normal;font-style:normal;text-align:left;"><span style="letter-spacing:-0.5px">based in </span><span style="color:#3d9a3d">[__]</span></div>
<div style="position:absolute;left:754.30px;top:1514.56px;width:1200px;font-family:'Liberation Sans', sans-serif;font-size:16.1px;line-height:19.32px;color:#111;font-weight:bold;font-style:normal;text-align:center;">mixed-model-induced</div>
<div style="position:absolute;left:754.30px;top:1535.46px;width:1200px;font-family:'Liberation Sans', sans-serif;font-size:16.1px;line-height:19.32px;color:#111;font-weight:bold;font-style:normal;text-align:center;">prompt</div>
<svg style="position:absolute;left:0;top:0;width:2500px;height:1666px;pointer-events:none" viewBox="0 0 2500 1666">
<path d="M278.6,1408 Q297.4,1408 297.4,1426.8 L297.4,1469.0 Q297.4,1487.9 316.3,1487.9 Q297.4,1487.9 297.4,1506.8000000000002 L297.4,1549.2 Q297.4,1568 278.6,1568" fill="none" stroke="#9a9a9a" stroke-width="1.1"/>
<path d="M328.8,1483.55 L387.40000000000003,1483.55 L387.40000000000003,1480.3999999999999 L395.6,1486.8 L387.40000000000003,1493.2 L387.40000000000003,1490.05 L328.8,1490.05 Z" fill="#9fc5e8" stroke="#6f9ccc" stroke-width="0.8"/>
<path d="M546.2,1482.2 L571.4,1482.2 L571.4,1478.9 L578.8,1485.2 L571.4,1491.5 L571.4,1488.2 L546.2,1488.2 Z" fill="#000"/>
<path d="M639.6999999999999,1511.0 L639.6999999999999,1536.7 L636.0,1536.7 L642.8,1544.0 L649.5999999999999,1536.7 L645.9,1536.7 L645.9,1511.0 Z" fill="#000"/>
<path d="M1140.8,1189.7 Q1161.9,1189.7 1161.9,1210.8000000000002 L1161.9,1256.8000000000002 Q1161.9,1277.2 1182.3,1277.2 Q1161.9,1277.2 1161.9,1297.6 L1161.9,1345.6 Q1161.9,1366.7 1140.8,1366.7" fill="none" stroke="#9a9a9a" stroke-width="1.1"/>
<path d="M1188.2,1273.75 L1253.6,1273.75 L1253.6,1270.1 L1262,1277.1 L1253.6,1284.1 L1253.6,1280.4499999999998 L1188.2,1280.4499999999998 Z" fill="#9fc5e8" stroke="#6f9ccc" stroke-width="0.8"/>
<path d="M1140.8,1391.3 Q1161.9,1391.3 1161.9,1412.4 L1161.9,1458.0000000000002 Q1161.9,1478.4 1182.3,1478.4 Q1161.9,1478.4 1161.9,1498.8 L1161.9,1545.3 Q1161.9,1566.4 1140.8,1566.4" fill="none" stroke="#9a9a9a" stroke-width="1.1"/>
<path d="M1188.2,1474.0500000000002 L1253.6,1474.0500000000002 L1253.6,1470.4 L1262,1477.4 L1253.6,1484.4 L1253.6,1480.75 L1188.2,1480.75 Z" fill="#9fc5e8" stroke="#6f9ccc" stroke-width="0.8"/>
</svg>
<!-- mid -->
<div style="position:absolute;left:913.00px;top:272.60px;width:681px;font-family:'Liberation Sans', sans-serif;font-size:20.2px;line-height:29.2px;color:#2e4353;font-weight:normal;font-style:normal;text-align:justify;text-align-last:justify;white-space:nowrap;">AutoPrompt generally performs best when the Source and Target LMs are</div>
<div style="position:absolute;left:913.00px;top:301.80px;width:681px;font-family:'Liberation Sans', sans-serif;font-size:20.2px;line-height:29.2px;color:#2e4353;font-weight:normal;font-style:normal;text-align:justify;text-align-last:justify;white-space:nowrap;">the same. The performance gap gets bigger as we transfer across different</div>
<div style="position:absolute;left:913.00px;top:331.00px;width:681px;font-family:'Liberation Sans', sans-serif;font-size:20.2px;line-height:29.2px;color:#2e4353;font-weight:normal;font-style:normal;text-align:justify;text-align-last:justify;white-space:nowrap;">LM types. Prompts are generally more stable across different sizes of the</div>
<div style="position:absolute;left:913.00px;top:360.20px;width:681px;font-family:'Liberation Sans', sans-serif;font-size:20.2px;line-height:29.2px;color:#2e4353;font-weight:normal;font-style:normal;text-align:left;white-space:nowrap;">same model.</div>
<div style="position:absolute;left:665.50px;top:395.67px;width:1200px;font-family:'Liberation Sans', sans-serif;font-size:12.5px;line-height:15.0px;color:#2e4353;font-weight:normal;font-style:normal;text-align:center;">Performance difference In generalization</div>
<svg style="position:absolute;left:0;top:0;width:2500px;height:1000px" viewBox="0 0 2500 1000" font-family="Liberation Sans, sans-serif">
<rect x="1027.90" y="418.20" width="31.70" height="29.65" fill="#f2f2f3"/>
<rect x="1059.30" y="418.20" width="31.70" height="29.65" fill="#ebc1ce"/>
<rect x="1090.70" y="418.20" width="31.70" height="29.65" fill="#edd0da"/>
<rect x="1122.10" y="418.20" width="31.70" height="29.65" fill="#e385a1"/>
<rect x="1153.50" y="418.20" width="31.70" height="29.65" fill="#dd6085"/>
<rect x="1184.90" y="418.20" width="31.70" height="29.65" fill="#e7a7ba"/>
<rect x="1216.30" y="418.20" width="31.70" height="29.65" fill="#e491a9"/>
<rect x="1247.70" y="418.20" width="31.70" height="29.65" fill="#e17a98"/>
<rect x="1279.10" y="418.20" width="31.70" height="29.65" fill="#dc557c"/>
<rect x="1310.50" y="418.20" width="31.70" height="29.65" fill="#db5179"/>
<rect x="1341.90" y="418.20" width="31.70" height="29.65" fill="#e385a1"/>
<rect x="1373.30" y="418.20" width="31.70" height="29.65" fill="#da4974"/>
<rect x="1404.70" y="418.20" width="31.70" height="29.65" fill="#e07696"/>
<rect x="1436.10" y="418.20" width="31.70" height="29.65" fill="#df6b8d"/>
<rect x="1467.50" y="418.20" width="31.70" height="29.65" fill="#e385a1"/>
<rect x="1027.90" y="447.55" width="31.70" height="29.65" fill="#f0e7eb"/>
<rect x="1059.30" y="447.55" width="31.70" height="29.65" fill="#f2f2f3"/>
<rect x="1090.70" y="447.55" width="31.70" height="29.65" fill="#edd0da"/>
<rect x="1122.10" y="447.55" width="31.70" height="29.65" fill="#e491a9"/>
<rect x="1153.50" y="447.55" width="31.70" height="29.65" fill="#e07393"/>
<rect x="1184.90" y="447.55" width="31.70" height="29.65" fill="#e8afc0"/>
<rect x="1216.30" y="447.55" width="31.70" height="29.65" fill="#e7a3b8"/>
<rect x="1247.70" y="447.55" width="31.70" height="29.65" fill="#e48da7"/>
<rect x="1279.10" y="447.55" width="31.70" height="29.65" fill="#de6487"/>
<rect x="1310.50" y="447.55" width="31.70" height="29.65" fill="#dd5c82"/>
<rect x="1341.90" y="447.55" width="31.70" height="29.65" fill="#e491a9"/>
<rect x="1373.30" y="447.55" width="31.70" height="29.65" fill="#db5179"/>
<rect x="1404.70" y="447.55" width="31.70" height="29.65" fill="#e385a1"/>
<rect x="1436.10" y="447.55" width="31.70" height="29.65" fill="#e17a98"/>
<rect x="1467.50" y="447.55" width="31.70" height="29.65" fill="#e69cb2"/>
<rect x="1027.90" y="476.90" width="31.70" height="29.65" fill="#ebbecb"/>
<rect x="1059.30" y="476.90" width="31.70" height="29.65" fill="#e8abbd"/>
<rect x="1090.70" y="476.90" width="31.70" height="29.65" fill="#f2f2f3"/>
<rect x="1122.10" y="476.90" width="31.70" height="29.65" fill="#e598af"/>
<rect x="1153.50" y="476.90" width="31.70" height="29.65" fill="#e389a4"/>
<rect x="1184.90" y="476.90" width="31.70" height="29.65" fill="#eabac9"/>
<rect x="1216.30" y="476.90" width="31.70" height="29.65" fill="#e6a0b5"/>
<rect x="1247.70" y="476.90" width="31.70" height="29.65" fill="#e594ac"/>
<rect x="1279.10" y="476.90" width="31.70" height="29.65" fill="#e389a4"/>
<rect x="1310.50" y="476.90" width="31.70" height="29.65" fill="#e48da7"/>
<rect x="1341.90" y="476.90" width="31.70" height="29.65" fill="#e594ac"/>
<rect x="1373.30" y="476.90" width="31.70" height="29.65" fill="#e48da7"/>
<rect x="1404.70" y="476.90" width="31.70" height="29.65" fill="#e69cb2"/>
<rect x="1436.10" y="476.90" width="31.70" height="29.65" fill="#e491a9"/>
<rect x="1467.50" y="476.90" width="31.70" height="29.65" fill="#e594ac"/>
<rect x="1027.90" y="506.25" width="31.70" height="29.65" fill="#eed8df"/>
<rect x="1059.30" y="506.25" width="31.70" height="29.65" fill="#ecc5d1"/>
<rect x="1090.70" y="506.25" width="31.70" height="29.65" fill="#eed4dc"/>
<rect x="1122.10" y="506.25" width="31.70" height="29.65" fill="#f2f2f3"/>
<rect x="1153.50" y="506.25" width="31.70" height="29.65" fill="#edcdd7"/>
<rect x="1184.90" y="506.25" width="31.70" height="29.65" fill="#f1eef0"/>
<rect x="1216.30" y="506.25" width="31.70" height="29.65" fill="#e9b2c3"/>
<rect x="1247.70" y="506.25" width="31.70" height="29.65" fill="#e8afc0"/>
<rect x="1279.10" y="506.25" width="31.70" height="29.65" fill="#e48da7"/>
<rect x="1310.50" y="506.25" width="31.70" height="29.65" fill="#e389a4"/>
<rect x="1341.90" y="506.25" width="31.70" height="29.65" fill="#ebbecb"/>
<rect x="1373.30" y="506.25" width="31.70" height="29.65" fill="#e594ac"/>
<rect x="1404.70" y="506.25" width="31.70" height="29.65" fill="#e69cb2"/>
<rect x="1436.10" y="506.25" width="31.70" height="29.65" fill="#e69cb2"/>
<rect x="1467.50" y="506.25" width="31.70" height="29.65" fill="#e8abbd"/>
<rect x="1027.90" y="535.60" width="31.70" height="29.65" fill="#efdce2"/>
<rect x="1059.30" y="535.60" width="31.70" height="29.65" fill="#ebc1ce"/>
<rect x="1090.70" y="535.60" width="31.70" height="29.65" fill="#edcdd7"/>
<rect x="1122.10" y="535.60" width="31.70" height="29.65" fill="#edd0da"/>
<rect x="1153.50" y="535.60" width="31.70" height="29.65" fill="#f2f2f3"/>
<rect x="1184.90" y="535.60" width="31.70" height="29.65" fill="#efdce2"/>
<rect x="1216.30" y="535.60" width="31.70" height="29.65" fill="#e9b6c6"/>
<rect x="1247.70" y="535.60" width="31.70" height="29.65" fill="#e7a7ba"/>
<rect x="1279.10" y="535.60" width="31.70" height="29.65" fill="#e27e9b"/>
<rect x="1310.50" y="535.60" width="31.70" height="29.65" fill="#e17a98"/>
<rect x="1341.90" y="535.60" width="31.70" height="29.65" fill="#e8afc0"/>
<rect x="1373.30" y="535.60" width="31.70" height="29.65" fill="#e594ac"/>
<rect x="1404.70" y="535.60" width="31.70" height="29.65" fill="#e491a9"/>
<rect x="1436.10" y="535.60" width="31.70" height="29.65" fill="#e69cb2"/>
<rect x="1467.50" y="535.60" width="31.70" height="29.65" fill="#e8afc0"/>
<rect x="1027.90" y="564.95" width="31.70" height="29.65" fill="#edd0da"/>
<rect x="1059.30" y="564.95" width="31.70" height="29.65" fill="#ebbecb"/>
<rect x="1090.70" y="564.95" width="31.70" height="29.65" fill="#ecc5d1"/>
<rect x="1122.10" y="564.95" width="31.70" height="29.65" fill="#eed4dc"/>
<rect x="1153.50" y="564.95" width="31.70" height="29.65" fill="#e6a0b5"/>
<rect x="1184.90" y="564.95" width="31.70" height="29.65" fill="#f2f2f3"/>
<rect x="1216.30" y="564.95" width="31.70" height="29.65" fill="#e8afc0"/>
<rect x="1247.70" y="564.95" width="31.70" height="29.65" fill="#e69cb2"/>
<rect x="1279.10" y="564.95" width="31.70" height="29.65" fill="#e27e9b"/>
<rect x="1310.50" y="564.95" width="31.70" height="29.65" fill="#e2829e"/>
<rect x="1341.90" y="564.95" width="31.70" height="29.65" fill="#ebbecb"/>
<rect x="1373.30" y="564.95" width="31.70" height="29.65" fill="#e6a0b5"/>
<rect x="1404.70" y="564.95" width="31.70" height="29.65" fill="#e6a0b5"/>
<rect x="1436.10" y="564.95" width="31.70" height="29.65" fill="#e48da7"/>
<rect x="1467.50" y="564.95" width="31.70" height="29.65" fill="#e598af"/>
<rect x="1027.90" y="594.30" width="31.70" height="29.65" fill="#eed8df"/>
<rect x="1059.30" y="594.30" width="31.70" height="29.65" fill="#efdce2"/>
<rect x="1090.70" y="594.30" width="31.70" height="29.65" fill="#f0e7eb"/>
<rect x="1122.10" y="594.30" width="31.70" height="29.65" fill="#efdfe5"/>
<rect x="1153.50" y="594.30" width="31.70" height="29.65" fill="#eed8df"/>
<rect x="1184.90" y="594.30" width="31.70" height="29.65" fill="#f1ebed"/>
<rect x="1216.30" y="594.30" width="31.70" height="29.65" fill="#f2f2f3"/>
<rect x="1247.70" y="594.30" width="31.70" height="29.65" fill="#f1ebed"/>
<rect x="1279.10" y="594.30" width="31.70" height="29.65" fill="#eed8df"/>
<rect x="1310.50" y="594.30" width="31.70" height="29.65" fill="#eed8df"/>
<rect x="1341.90" y="594.30" width="31.70" height="29.65" fill="#f1ebed"/>
<rect x="1373.30" y="594.30" width="31.70" height="29.65" fill="#eed4dc"/>
<rect x="1404.70" y="594.30" width="31.70" height="29.65" fill="#efdfe5"/>
<rect x="1436.10" y="594.30" width="31.70" height="29.65" fill="#efdce2"/>
<rect x="1467.50" y="594.30" width="31.70" height="29.65" fill="#efdfe5"/>
<rect x="1027.90" y="623.65" width="31.70" height="29.65" fill="#f0e3e8"/>
<rect x="1059.30" y="623.65" width="31.70" height="29.65" fill="#efdce2"/>
<rect x="1090.70" y="623.65" width="31.70" height="29.65" fill="#f1eef0"/>
<rect x="1122.10" y="623.65" width="31.70" height="29.65" fill="#eed8df"/>
<rect x="1153.50" y="623.65" width="31.70" height="29.65" fill="#ecc5d1"/>
<rect x="1184.90" y="623.65" width="31.70" height="29.65" fill="#f0e3e8"/>
<rect x="1216.30" y="623.65" width="31.70" height="29.65" fill="#f1eef0"/>
<rect x="1247.70" y="623.65" width="31.70" height="29.65" fill="#f2f2f3"/>
<rect x="1279.10" y="623.65" width="31.70" height="29.65" fill="#edd0da"/>
<rect x="1310.50" y="623.65" width="31.70" height="29.65" fill="#efdce2"/>
<rect x="1341.90" y="623.65" width="31.70" height="29.65" fill="#eeeff2"/>
<rect x="1373.30" y="623.65" width="31.70" height="29.65" fill="#eed4dc"/>
<rect x="1404.70" y="623.65" width="31.70" height="29.65" fill="#edcdd7"/>
<rect x="1436.10" y="623.65" width="31.70" height="29.65" fill="#edcdd7"/>
<rect x="1467.50" y="623.65" width="31.70" height="29.65" fill="#efdce2"/>
<rect x="1027.90" y="653.00" width="31.70" height="29.65" fill="#e0e5ef"/>
<rect x="1059.30" y="653.00" width="31.70" height="29.65" fill="#f2f2f3"/>
<rect x="1090.70" y="653.00" width="31.70" height="29.65" fill="#e0e5ef"/>
<rect x="1122.10" y="653.00" width="31.70" height="29.65" fill="#f1eef0"/>
<rect x="1153.50" y="653.00" width="31.70" height="29.65" fill="#efdfe5"/>
<rect x="1184.90" y="653.00" width="31.70" height="29.65" fill="#eeeff2"/>
<rect x="1216.30" y="653.00" width="31.70" height="29.65" fill="#e7eaf1"/>
<rect x="1247.70" y="653.00" width="31.70" height="29.65" fill="#e7eaf1"/>
<rect x="1279.10" y="653.00" width="31.70" height="29.65" fill="#f2f2f3"/>
<rect x="1310.50" y="653.00" width="31.70" height="29.65" fill="#eeeff2"/>
<rect x="1341.90" y="653.00" width="31.70" height="29.65" fill="#e4e8f0"/>
<rect x="1373.30" y="653.00" width="31.70" height="29.65" fill="#e7eaf1"/>
<rect x="1404.70" y="653.00" width="31.70" height="29.65" fill="#f1eef0"/>
<rect x="1436.10" y="653.00" width="31.70" height="29.65" fill="#f1eef0"/>
<rect x="1467.50" y="653.00" width="31.70" height="29.65" fill="#eeeff2"/>
<rect x="1027.90" y="682.35" width="31.70" height="29.65" fill="#e7eaf1"/>
<rect x="1059.30" y="682.35" width="31.70" height="29.65" fill="#f1eef0"/>
<rect x="1090.70" y="682.35" width="31.70" height="29.65" fill="#e0e5ef"/>
<rect x="1122.10" y="682.35" width="31.70" height="29.65" fill="#f0e3e8"/>
<rect x="1153.50" y="682.35" width="31.70" height="29.65" fill="#f0e3e8"/>
<rect x="1184.90" y="682.35" width="31.70" height="29.65" fill="#ebedf2"/>
<rect x="1216.30" y="682.35" width="31.70" height="29.65" fill="#eeeff2"/>
<rect x="1247.70" y="682.35" width="31.70" height="29.65" fill="#f2f2f3"/>
<rect x="1279.10" y="682.35" width="31.70" height="29.65" fill="#f1ebed"/>
<rect x="1310.50" y="682.35" width="31.70" height="29.65" fill="#f2f2f3"/>
<rect x="1341.90" y="682.35" width="31.70" height="29.65" fill="#e0e5ef"/>
<rect x="1373.30" y="682.35" width="31.70" height="29.65" fill="#f1ebed"/>
<rect x="1404.70" y="682.35" width="31.70" height="29.65" fill="#f0e3e8"/>
<rect x="1436.10" y="682.35" width="31.70" height="29.65" fill="#f0e3e8"/>
<rect x="1467.50" y="682.35" width="31.70" height="29.65" fill="#f1ebed"/>
<rect x="1027.90" y="711.70" width="31.70" height="29.65" fill="#ecc9d4"/>
<rect x="1059.30" y="711.70" width="31.70" height="29.65" fill="#e9b6c6"/>
<rect x="1090.70" y="711.70" width="31.70" height="29.65" fill="#edd0da"/>
<rect x="1122.10" y="711.70" width="31.70" height="29.65" fill="#e69cb2"/>
<rect x="1153.50" y="711.70" width="31.70" height="29.65" fill="#e7a3b8"/>
<rect x="1184.90" y="711.70" width="31.70" height="29.65" fill="#edd0da"/>
<rect x="1216.30" y="711.70" width="31.70" height="29.65" fill="#e9b6c6"/>
<rect x="1247.70" y="711.70" width="31.70" height="29.65" fill="#e9b6c6"/>
<rect x="1279.10" y="711.70" width="31.70" height="29.65" fill="#e48da7"/>
<rect x="1310.50" y="711.70" width="31.70" height="29.65" fill="#e69cb2"/>
<rect x="1341.90" y="711.70" width="31.70" height="29.65" fill="#f2f2f3"/>
<rect x="1373.30" y="711.70" width="31.70" height="29.65" fill="#e6a0b5"/>
<rect x="1404.70" y="711.70" width="31.70" height="29.65" fill="#e7a7ba"/>
<rect x="1436.10" y="711.70" width="31.70" height="29.65" fill="#e69cb2"/>
<rect x="1467.50" y="711.70" width="31.70" height="29.65" fill="#e8afc0"/>
<rect x="1027.90" y="741.05" width="31.70" height="29.65" fill="#f2f2f3"/>
<rect x="1059.30" y="741.05" width="31.70" height="29.65" fill="#efdfe5"/>
<rect x="1090.70" y="741.05" width="31.70" height="29.65" fill="#ebedf2"/>
<rect x="1122.10" y="741.05" width="31.70" height="29.65" fill="#edcdd7"/>
<rect x="1153.50" y="741.05" width="31.70" height="29.65" fill="#ebc1ce"/>
<rect x="1184.90" y="741.05" width="31.70" height="29.65" fill="#efdfe5"/>
<rect x="1216.30" y="741.05" width="31.70" height="29.65" fill="#ebedf2"/>
<rect x="1247.70" y="741.05" width="31.70" height="29.65" fill="#f1eef0"/>
<rect x="1279.10" y="741.05" width="31.70" height="29.65" fill="#ebbecb"/>
<rect x="1310.50" y="741.05" width="31.70" height="29.65" fill="#ecc5d1"/>
<rect x="1341.90" y="741.05" width="31.70" height="29.65" fill="#f2f2f3"/>
<rect x="1373.30" y="741.05" width="31.70" height="29.65" fill="#f2f2f3"/>
<rect x="1404.70" y="741.05" width="31.70" height="29.65" fill="#ecc5d1"/>
<rect x="1436.10" y="741.05" width="31.70" height="29.65" fill="#ebc1ce"/>
<rect x="1467.50" y="741.05" width="31.70" height="29.65" fill="#efdce2"/>
<rect x="1027.90" y="770.40" width="31.70" height="29.65" fill="#e9b6c6"/>
<rect x="1059.30" y="770.40" width="31.70" height="29.65" fill="#e9b6c6"/>
<rect x="1090.70" y="770.40" width="31.70" height="29.65" fill="#ecc5d1"/>
<rect x="1122.10" y="770.40" width="31.70" height="29.65" fill="#e8abbd"/>
<rect x="1153.50" y="770.40" width="31.70" height="29.65" fill="#e598af"/>
<rect x="1184.90" y="770.40" width="31.70" height="29.65" fill="#e8afc0"/>
<rect x="1216.30" y="770.40" width="31.70" height="29.65" fill="#ecc5d1"/>
<rect x="1247.70" y="770.40" width="31.70" height="29.65" fill="#eabac9"/>
<rect x="1279.10" y="770.40" width="31.70" height="29.65" fill="#e69cb2"/>
<rect x="1310.50" y="770.40" width="31.70" height="29.65" fill="#e7a3b8"/>
<rect x="1341.90" y="770.40" width="31.70" height="29.65" fill="#e69cb2"/>
<rect x="1373.30" y="770.40" width="31.70" height="29.65" fill="#e9b6c6"/>
<rect x="1404.70" y="770.40" width="31.70" height="29.65" fill="#f2f2f3"/>
<rect x="1436.10" y="770.40" width="31.70" height="29.65" fill="#e8afc0"/>
<rect x="1467.50" y="770.40" width="31.70" height="29.65" fill="#e7a7ba"/>
<rect x="1027.90" y="799.75" width="31.70" height="29.65" fill="#edcdd7"/>
<rect x="1059.30" y="799.75" width="31.70" height="29.65" fill="#e8afc0"/>
<rect x="1090.70" y="799.75" width="31.70" height="29.65" fill="#edd0da"/>
<rect x="1122.10" y="799.75" width="31.70" height="29.65" fill="#e7a3b8"/>
<rect x="1153.50" y="799.75" width="31.70" height="29.65" fill="#e491a9"/>
<rect x="1184.90" y="799.75" width="31.70" height="29.65" fill="#e9b6c6"/>
<rect x="1216.30" y="799.75" width="31.70" height="29.65" fill="#eabac9"/>
<rect x="1247.70" y="799.75" width="31.70" height="29.65" fill="#e8afc0"/>
<rect x="1279.10" y="799.75" width="31.70" height="29.65" fill="#e594ac"/>
<rect x="1310.50" y="799.75" width="31.70" height="29.65" fill="#e598af"/>
<rect x="1341.90" y="799.75" width="31.70" height="29.65" fill="#e8afc0"/>
<rect x="1373.30" y="799.75" width="31.70" height="29.65" fill="#e8abbd"/>
<rect x="1404.70" y="799.75" width="31.70" height="29.65" fill="#ebbecb"/>
<rect x="1436.10" y="799.75" width="31.70" height="29.65" fill="#f2f2f3"/>
<rect x="1467.50" y="799.75" width="31.70" height="29.65" fill="#ebc1ce"/>
<rect x="1027.90" y="829.10" width="31.70" height="29.65" fill="#edcdd7"/>
<rect x="1059.30" y="829.10" width="31.70" height="29.65" fill="#eabac9"/>
<rect x="1090.70" y="829.10" width="31.70" height="29.65" fill="#edd0da"/>
<rect x="1122.10" y="829.10" width="31.70" height="29.65" fill="#e7a3b8"/>
<rect x="1153.50" y="829.10" width="31.70" height="29.65" fill="#e598af"/>
<rect x="1184.90" y="829.10" width="31.70" height="29.65" fill="#ebbecb"/>
<rect x="1216.30" y="829.10" width="31.70" height="29.65" fill="#ebc1ce"/>
<rect x="1247.70" y="829.10" width="31.70" height="29.65" fill="#ebc1ce"/>
<rect x="1279.10" y="829.10" width="31.70" height="29.65" fill="#e598af"/>
<rect x="1310.50" y="829.10" width="31.70" height="29.65" fill="#e69cb2"/>
<rect x="1341.90" y="829.10" width="31.70" height="29.65" fill="#e8afc0"/>
<rect x="1373.30" y="829.10" width="31.70" height="29.65" fill="#e8afc0"/>
<rect x="1404.70" y="829.10" width="31.70" height="29.65" fill="#e7a3b8"/>
<rect x="1436.10" y="829.10" width="31.70" height="29.65" fill="#eabac9"/>
<rect x="1467.50" y="829.10" width="31.70" height="29.65" fill="#f2f2f3"/>
<text x="1043.60" y="436.38" font-size="13.6" text-anchor="middle" fill="#262626" letter-spacing="0.3">0</text>
<text x="1075.00" y="436.38" font-size="13.6" text-anchor="middle" fill="#262626" letter-spacing="0.3">-13</text>
<text x="1106.40" y="436.38" font-size="13.6" text-anchor="middle" fill="#262626" letter-spacing="0.3">-9</text>
<text x="1137.80" y="436.38" font-size="13.6" text-anchor="middle" fill="#fff" letter-spacing="0.3">-29</text>
<text x="1169.20" y="436.38" font-size="13.6" text-anchor="middle" fill="#fff" letter-spacing="0.3">-39</text>
<text x="1200.60" y="436.38" font-size="13.6" text-anchor="middle" fill="#262626" letter-spacing="0.3">-20</text>
<text x="1232.00" y="436.38" font-size="13.6" text-anchor="middle" fill="#fff" letter-spacing="0.3">-26</text>
<text x="1263.40" y="436.38" font-size="13.6" text-anchor="middle" fill="#fff" letter-spacing="0.3">-32</text>
<text x="1294.80" y="436.38" font-size="13.6" text-anchor="middle" fill="#fff" letter-spacing="0.3">-42</text>
<text x="1326.20" y="436.38" font-size="13.6" text-anchor="middle" fill="#fff" letter-spacing="0.3">-43</text>
<text x="1357.60" y="436.38" font-size="13.6" text-anchor="middle" fill="#fff" letter-spacing="0.3">-29</text>
<text x="1389.00" y="436.38" font-size="13.6" text-anchor="middle" fill="#fff" letter-spacing="0.3">-45</text>
<text x="1420.40" y="436.38" font-size="13.6" text-anchor="middle" fill="#fff" letter-spacing="0.3">-33</text>
<text x="1451.80" y="436.38" font-size="13.6" text-anchor="middle" fill="#fff" letter-spacing="0.3">-36</text>
<text x="1483.20" y="436.38" font-size="13.6" text-anchor="middle" fill="#fff" letter-spacing="0.3">-29</text>
<text x="1043.60" y="465.73" font-size="13.6" text-anchor="middle" fill="#262626" letter-spacing="0.3">-3</text>
<text x="1075.00" y="465.73" font-size="13.6" text-anchor="middle" fill="#262626" letter-spacing="0.3">0</text>
<text x="1106.40" y="465.73" font-size="13.6" text-anchor="middle" fill="#262626" letter-spacing="0.3">-9</text>
<text x="1137.80" y="465.73" font-size="13.6" text-anchor="middle" fill="#fff" letter-spacing="0.3">-26</text>
<text x="1169.20" y="465.73" font-size="13.6" text-anchor="middle" fill="#fff" letter-spacing="0.3">-34</text>
<text x="1200.60" y="465.73" font-size="13.6" text-anchor="middle" fill="#262626" letter-spacing="0.3">-18</text>
<text x="1232.00" y="465.73" font-size="13.6" text-anchor="middle" fill="#262626" letter-spacing="0.3">-21</text>
<text x="1263.40" y="465.73" font-size="13.6" text-anchor="middle" fill="#fff" letter-spacing="0.3">-27</text>
<text x="1294.80" y="465.73" font-size="13.6" text-anchor="middle" fill="#fff" letter-spacing="0.3">-38</text>
<text x="1326.20" y="465.73" font-size="13.6" text-anchor="middle" fill="#fff" letter-spacing="0.3">-40</text>
<text x="1357.60" y="465.73" font-size="13.6" text-anchor="middle" fill="#fff" letter-spacing="0.3">-26</text>
<text x="1389.00" y="465.73" font-size="13.6" text-anchor="middle" fill="#fff" letter-spacing="0.3">-43</text>
<text x="1420.40" y="465.73" font-size="13.6" text-anchor="middle" fill="#fff" letter-spacing="0.3">-29</text>
<text x="1451.80" y="465.73" font-size="13.6" text-anchor="middle" fill="#fff" letter-spacing="0.3">-32</text>
<text x="1483.20" y="465.73" font-size="13.6" text-anchor="middle" fill="#262626" letter-spacing="0.3">-23</text>
<text x="1043.60" y="495.07" font-size="13.6" text-anchor="middle" fill="#262626" letter-spacing="0.3">-14</text>
<text x="1075.00" y="495.07" font-size="13.6" text-anchor="middle" fill="#262626" letter-spacing="0.3">-19</text>
<text x="1106.40" y="495.07" font-size="13.6" text-anchor="middle" fill="#262626" letter-spacing="0.3">0</text>
<text x="1137.80" y="495.07" font-size="13.6" text-anchor="middle" fill="#fff" letter-spacing="0.3">-24</text>
<text x="1169.20" y="495.07" font-size="13.6" text-anchor="middle" fill="#fff" letter-spacing="0.3">-28</text>
<text x="1200.60" y="495.07" font-size="13.6" text-anchor="middle" fill="#262626" letter-spacing="0.3">-15</text>
<text x="1232.00" y="495.07" font-size="13.6" text-anchor="middle" fill="#262626" letter-spacing="0.3">-22</text>
<text x="1263.40" y="495.07" font-size="13.6" text-anchor="middle" fill="#fff" letter-spacing="0.3">-25</text>
<text x="1294.80" y="495.07" font-size="13.6" text-anchor="middle" fill="#fff" letter-spacing="0.3">-28</text>
<text x="1326.20" y="495.07" font-size="13.6" text-anchor="middle" fill="#fff" letter-spacing="0.3">-27</text>
<text x="1357.60" y="495.07" font-size="13.6" text-anchor="middle" fill="#fff" letter-spacing="0.3">-25</text>
<text x="1389.00" y="495.07" font-size="13.6" text-anchor="middle" fill="#fff" letter-spacing="0.3">-27</text>
<text x="1420.40" y="495.07" font-size="13.6" text-anchor="middle" fill="#262626" letter-spacing="0.3">-23</text>
<text x="1451.80" y="495.07" font-size="13.6" text-anchor="middle" fill="#fff" letter-spacing="0.3">-26</text>
<text x="1483.20" y="495.07" font-size="13.6" text-anchor="middle" fill="#fff" letter-spacing="0.3">-25</text>
<text x="1043.60" y="524.42" font-size="13.6" text-anchor="middle" fill="#262626" letter-spacing="0.3">-7</text>
<text x="1075.00" y="524.42" font-size="13.6" text-anchor="middle" fill="#262626" letter-spacing="0.3">-12</text>
<text x="1106.40" y="524.42" font-size="13.6" text-anchor="middle" fill="#262626" letter-spacing="0.3">-8</text>
<text x="1137.80" y="524.42" font-size="13.6" text-anchor="middle" fill="#262626" letter-spacing="0.3">0</text>
<text x="1169.20" y="524.42" font-size="13.6" text-anchor="middle" fill="#262626" letter-spacing="0.3">-10</text>
<text x="1200.60" y="524.42" font-size="13.6" text-anchor="middle" fill="#262626" letter-spacing="0.3">-1</text>
<text x="1232.00" y="524.42" font-size="13.6" text-anchor="middle" fill="#262626" letter-spacing="0.3">-17</text>
<text x="1263.40" y="524.42" font-size="13.6" text-anchor="middle" fill="#262626" letter-spacing="0.3">-18</text>
<text x="1294.80" y="524.42" font-size="13.6" text-anchor="middle" fill="#fff" letter-spacing="0.3">-27</text>
<text x="1326.20" y="524.42" font-size="13.6" text-anchor="middle" fill="#fff" letter-spacing="0.3">-28</text>
<text x="1357.60" y="524.42" font-size="13.6" text-anchor="middle" fill="#262626" letter-spacing="0.3">-14</text>
<text x="1389.00" y="524.42" font-size="13.6" text-anchor="middle" fill="#fff" letter-spacing="0.3">-25</text>
<text x="1420.40" y="524.42" font-size="13.6" text-anchor="middle" fill="#262626" letter-spacing="0.3">-23</text>
<text x="1451.80" y="524.42" font-size="13.6" text-anchor="middle" fill="#262626" letter-spacing="0.3">-23</text>
<text x="1483.20" y="524.42" font-size="13.6" text-anchor="middle" fill="#262626" letter-spacing="0.3">-19</text>
<text x="1043.60" y="553.77" font-size="13.6" text-anchor="middle" fill="#262626" letter-spacing="0.3">-6</text>
<text x="1075.00" y="553.77" font-size="13.6" text-anchor="middle" fill="#262626" letter-spacing="0.3">-13</text>
<text x="1106.40" y="553.77" font-size="13.6" text-anchor="middle" fill="#262626" letter-spacing="0.3">-10</text>
<text x="1137.80" y="553.77" font-size="13.6" text-anchor="middle" fill="#262626" letter-spacing="0.3">-9</text>
<text x="1169.20" y="553.77" font-size="13.6" text-anchor="middle" fill="#262626" letter-spacing="0.3">0</text>
<text x="1200.60" y="553.77" font-size="13.6" text-anchor="middle" fill="#262626" letter-spacing="0.3">-6</text>
<text x="1232.00" y="553.77" font-size="13.6" text-anchor="middle" fill="#262626" letter-spacing="0.3">-16</text>
<text x="1263.40" y="553.77" font-size="13.6" text-anchor="middle" fill="#262626" letter-spacing="0.3">-20</text>
<text x="1294.80" y="553.77" font-size="13.6" text-anchor="middle" fill="#fff" letter-spacing="0.3">-31</text>
<text x="1326.20" y="553.77" font-size="13.6" text-anchor="middle" fill="#fff" letter-spacing="0.3">-32</text>
<text x="1357.60" y="553.77" font-size="13.6" text-anchor="middle" fill="#262626" letter-spacing="0.3">-18</text>
<text x="1389.00" y="553.77" font-size="13.6" text-anchor="middle" fill="#fff" letter-spacing="0.3">-25</text>
<text x="1420.40" y="553.77" font-size="13.6" text-anchor="middle" fill="#fff" letter-spacing="0.3">-26</text>
<text x="1451.80" y="553.77" font-size="13.6" text-anchor="middle" fill="#262626" letter-spacing="0.3">-23</text>
<text x="1483.20" y="553.77" font-size="13.6" text-anchor="middle" fill="#262626" letter-spacing="0.3">-18</text>
<text x="1043.60" y="583.12" font-size="13.6" text-anchor="middle" fill="#262626" letter-spacing="0.3">-9</text>
<text x="1075.00" y="583.12" font-size="13.6" text-anchor="middle" fill="#262626" letter-spacing="0.3">-14</text>
<text x="1106.40" y="583.12" font-size="13.6" text-anchor="middle" fill="#262626" letter-spacing="0.3">-12</text>
<text x="1137.80" y="583.12" font-size="13.6" text-anchor="middle" fill="#262626" letter-spacing="0.3">-8</text>
<text x="1169.20" y="583.12" font-size="13.6" text-anchor="middle" fill="#262626" letter-spacing="0.3">-22</text>
<text x="1200.60" y="583.12" font-size="13.6" text-anchor="middle" fill="#262626" letter-spacing="0.3">0</text>
<text x="1232.00" y="583.12" font-size="13.6" text-anchor="middle" fill="#262626" letter-spacing="0.3">-18</text>
<text x="1263.40" y="583.12" font-size="13.6" text-anchor="middle" fill="#262626" letter-spacing="0.3">-23</text>
<text x="1294.80" y="583.12" font-size="13.6" text-anchor="middle" fill="#fff" letter-spacing="0.3">-31</text>
<text x="1326.20" y="583.12" font-size="13.6" text-anchor="middle" fill="#fff" letter-spacing="0.3">-30</text>
<text x="1357.60" y="583.12" font-size="13.6" text-anchor="middle" fill="#262626" letter-spacing="0.3">-14</text>
<text x="1389.00" y="583.12" font-size="13.6" text-anchor="middle" fill="#262626" letter-spacing="0.3">-22</text>
<text x="1420.40" y="583.12" font-size="13.6" text-anchor="middle" fill="#262626" letter-spacing="0.3">-22</text>
<text x="1451.80" y="583.12" font-size="13.6" text-anchor="middle" fill="#fff" letter-spacing="0.3">-27</text>
<text x="1483.20" y="583.12" font-size="13.6" text-anchor="middle" fill="#fff" letter-spacing="0.3">-24</text>
<text x="1043.60" y="612.47" font-size="13.6" text-anchor="middle" fill="#262626" letter-spacing="0.3">-7</text>
<text x="1075.00" y="612.47" font-size="13.6" text-anchor="middle" fill="#262626" letter-spacing="0.3">-6</text>
<text x="1106.40" y="612.47" font-size="13.6" text-anchor="middle" fill="#262626" letter-spacing="0.3">-3</text>
<text x="1137.80" y="612.47" font-size="13.6" text-anchor="middle" fill="#262626" letter-spacing="0.3">-5</text>
<text x="1169.20" y="612.47" font-size="13.6" text-anchor="middle" fill="#262626" letter-spacing="0.3">-7</text>
<text x="1200.60" y="612.47" font-size="13.6" text-anchor="middle" fill="#262626" letter-spacing="0.3">-2</text>
<text x="1232.00" y="612.47" font-size="13.6" text-anchor="middle" fill="#262626" letter-spacing="0.3">0</text>
<text x="1263.40" y="612.47" font-size="13.6" text-anchor="middle" fill="#262626" letter-spacing="0.3">-2</text>
<text x="1294.80" y="612.47" font-size="13.6" text-anchor="middle" fill="#262626" letter-spacing="0.3">-7</text>
<text x="1326.20" y="612.47" font-size="13.6" text-anchor="middle" fill="#262626" letter-spacing="0.3">-7</text>
<text x="1357.60" y="612.47" font-size="13.6" text-anchor="middle" fill="#262626" letter-spacing="0.3">-2</text>
<text x="1389.00" y="612.47" font-size="13.6" text-anchor="middle" fill="#262626" letter-spacing="0.3">-8</text>
<text x="1420.40" y="612.47" font-size="13.6" text-anchor="middle" fill="#262626" letter-spacing="0.3">-5</text>
<text x="1451.80" y="612.47" font-size="13.6" text-anchor="middle" fill="#262626" letter-spacing="0.3">-6</text>
<text x="1483.20" y="612.47" font-size="13.6" text-anchor="middle" fill="#262626" letter-spacing="0.3">-5</text>
<text x="1043.60" y="641.82" font-size="13.6" text-anchor="middle" fill="#262626" letter-spacing="0.3">-4</text>
<text x="1075.00" y="641.82" font-size="13.6" text-anchor="middle" fill="#262626" letter-spacing="0.3">-6</text>
<text x="1106.40" y="641.82" font-size="13.6" text-anchor="middle" fill="#262626" letter-spacing="0.3">-1</text>
<text x="1137.80" y="641.82" font-size="13.6" text-anchor="middle" fill="#262626" letter-spacing="0.3">-7</text>
<text x="1169.20" y="641.82" font-size="13.6" text-anchor="middle" fill="#262626" letter-spacing="0.3">-12</text>
<text x="1200.60" y="641.82" font-size="13.6" text-anchor="middle" fill="#262626" letter-spacing="0.3">-4</text>
<text x="1232.00" y="641.82" font-size="13.6" text-anchor="middle" fill="#262626" letter-spacing="0.3">-1</text>
<text x="1263.40" y="641.82" font-size="13.6" text-anchor="middle" fill="#262626" letter-spacing="0.3">0</text>
<text x="1294.80" y="641.82" font-size="13.6" text-anchor="middle" fill="#262626" letter-spacing="0.3">-9</text>
<text x="1326.20" y="641.82" font-size="13.6" text-anchor="middle" fill="#262626" letter-spacing="0.3">-6</text>
<text x="1357.60" y="641.82" font-size="13.6" text-anchor="middle" fill="#262626" letter-spacing="0.3">1</text>
<text x="1389.00" y="641.82" font-size="13.6" text-anchor="middle" fill="#262626" letter-spacing="0.3">-8</text>
<text x="1420.40" y="641.82" font-size="13.6" text-anchor="middle" fill="#262626" letter-spacing="0.3">-10</text>
<text x="1451.80" y="641.82" font-size="13.6" text-anchor="middle" fill="#262626" letter-spacing="0.3">-10</text>
<text x="1483.20" y="641.82" font-size="13.6" text-anchor="middle" fill="#262626" letter-spacing="0.3">-6</text>
<text x="1043.60" y="671.17" font-size="13.6" text-anchor="middle" fill="#262626" letter-spacing="0.3">5</text>
<text x="1075.00" y="671.17" font-size="13.6" text-anchor="middle" fill="#262626" letter-spacing="0.3">0</text>
<text x="1106.40" y="671.17" font-size="13.6" text-anchor="middle" fill="#262626" letter-spacing="0.3">5</text>
<text x="1137.80" y="671.17" font-size="13.6" text-anchor="middle" fill="#262626" letter-spacing="0.3">-1</text>
<text x="1169.20" y="671.17" font-size="13.6" text-anchor="middle" fill="#262626" letter-spacing="0.3">-5</text>
<text x="1200.60" y="671.17" font-size="13.6" text-anchor="middle" fill="#262626" letter-spacing="0.3">1</text>
<text x="1232.00" y="671.17" font-size="13.6" text-anchor="middle" fill="#262626" letter-spacing="0.3">3</text>
<text x="1263.40" y="671.17" font-size="13.6" text-anchor="middle" fill="#262626" letter-spacing="0.3">3</text>
<text x="1294.80" y="671.17" font-size="13.6" text-anchor="middle" fill="#262626" letter-spacing="0.3">0</text>
<text x="1326.20" y="671.17" font-size="13.6" text-anchor="middle" fill="#262626" letter-spacing="0.3">1</text>
<text x="1357.60" y="671.17" font-size="13.6" text-anchor="middle" fill="#262626" letter-spacing="0.3">4</text>
<text x="1389.00" y="671.17" font-size="13.6" text-anchor="middle" fill="#262626" letter-spacing="0.3">3</text>
<text x="1420.40" y="671.17" font-size="13.6" text-anchor="middle" fill="#262626" letter-spacing="0.3">-1</text>
<text x="1451.80" y="671.17" font-size="13.6" text-anchor="middle" fill="#262626" letter-spacing="0.3">-1</text>
<text x="1483.20" y="671.17" font-size="13.6" text-anchor="middle" fill="#262626" letter-spacing="0.3">1</text>
<text x="1043.60" y="700.52" font-size="13.6" text-anchor="middle" fill="#262626" letter-spacing="0.3">3</text>
<text x="1075.00" y="700.52" font-size="13.6" text-anchor="middle" fill="#262626" letter-spacing="0.3">-1</text>
<text x="1106.40" y="700.52" font-size="13.6" text-anchor="middle" fill="#262626" letter-spacing="0.3">5</text>
<text x="1137.80" y="700.52" font-size="13.6" text-anchor="middle" fill="#262626" letter-spacing="0.3">-4</text>
<text x="1169.20" y="700.52" font-size="13.6" text-anchor="middle" fill="#262626" letter-spacing="0.3">-4</text>
<text x="1200.60" y="700.52" font-size="13.6" text-anchor="middle" fill="#262626" letter-spacing="0.3">2</text>
<text x="1232.00" y="700.52" font-size="13.6" text-anchor="middle" fill="#262626" letter-spacing="0.3">1</text>
<text x="1263.40" y="700.52" font-size="13.6" text-anchor="middle" fill="#262626" letter-spacing="0.3">-0</text>
<text x="1294.80" y="700.52" font-size="13.6" text-anchor="middle" fill="#262626" letter-spacing="0.3">-2</text>
<text x="1326.20" y="700.52" font-size="13.6" text-anchor="middle" fill="#262626" letter-spacing="0.3">0</text>
<text x="1357.60" y="700.52" font-size="13.6" text-anchor="middle" fill="#262626" letter-spacing="0.3">5</text>
<text x="1389.00" y="700.52" font-size="13.6" text-anchor="middle" fill="#262626" letter-spacing="0.3">-2</text>
<text x="1420.40" y="700.52" font-size="13.6" text-anchor="middle" fill="#262626" letter-spacing="0.3">-4</text>
<text x="1451.80" y="700.52" font-size="13.6" text-anchor="middle" fill="#262626" letter-spacing="0.3">-4</text>
<text x="1483.20" y="700.52" font-size="13.6" text-anchor="middle" fill="#262626" letter-spacing="0.3">-2</text>
<text x="1043.60" y="729.88" font-size="13.6" text-anchor="middle" fill="#262626" letter-spacing="0.3">-11</text>
<text x="1075.00" y="729.88" font-size="13.6" text-anchor="middle" fill="#262626" letter-spacing="0.3">-16</text>
<text x="1106.40" y="729.88" font-size="13.6" text-anchor="middle" fill="#262626" letter-spacing="0.3">-9</text>
<text x="1137.80" y="729.88" font-size="13.6" text-anchor="middle" fill="#262626" letter-spacing="0.3">-23</text>
<text x="1169.20" y="729.88" font-size="13.6" text-anchor="middle" fill="#262626" letter-spacing="0.3">-21</text>
<text x="1200.60" y="729.88" font-size="13.6" text-anchor="middle" fill="#262626" letter-spacing="0.3">-9</text>
<text x="1232.00" y="729.88" font-size="13.6" text-anchor="middle" fill="#262626" letter-spacing="0.3">-16</text>
<text x="1263.40" y="729.88" font-size="13.6" text-anchor="middle" fill="#262626" letter-spacing="0.3">-16</text>
<text x="1294.80" y="729.88" font-size="13.6" text-anchor="middle" fill="#fff" letter-spacing="0.3">-27</text>
<text x="1326.20" y="729.88" font-size="13.6" text-anchor="middle" fill="#262626" letter-spacing="0.3">-23</text>
<text x="1357.60" y="729.88" font-size="13.6" text-anchor="middle" fill="#262626" letter-spacing="0.3">0</text>
<text x="1389.00" y="729.88" font-size="13.6" text-anchor="middle" fill="#262626" letter-spacing="0.3">-22</text>
<text x="1420.40" y="729.88" font-size="13.6" text-anchor="middle" fill="#262626" letter-spacing="0.3">-20</text>
<text x="1451.80" y="729.88" font-size="13.6" text-anchor="middle" fill="#262626" letter-spacing="0.3">-23</text>
<text x="1483.20" y="729.88" font-size="13.6" text-anchor="middle" fill="#262626" letter-spacing="0.3">-18</text>
<text x="1043.60" y="759.22" font-size="13.6" text-anchor="middle" fill="#262626" letter-spacing="0.3">0</text>
<text x="1075.00" y="759.22" font-size="13.6" text-anchor="middle" fill="#262626" letter-spacing="0.3">-5</text>
<text x="1106.40" y="759.22" font-size="13.6" text-anchor="middle" fill="#262626" letter-spacing="0.3">2</text>
<text x="1137.80" y="759.22" font-size="13.6" text-anchor="middle" fill="#262626" letter-spacing="0.3">-10</text>
<text x="1169.20" y="759.22" font-size="13.6" text-anchor="middle" fill="#262626" letter-spacing="0.3">-13</text>
<text x="1200.60" y="759.22" font-size="13.6" text-anchor="middle" fill="#262626" letter-spacing="0.3">-5</text>
<text x="1232.00" y="759.22" font-size="13.6" text-anchor="middle" fill="#262626" letter-spacing="0.3">2</text>
<text x="1263.40" y="759.22" font-size="13.6" text-anchor="middle" fill="#262626" letter-spacing="0.3">-1</text>
<text x="1294.80" y="759.22" font-size="13.6" text-anchor="middle" fill="#262626" letter-spacing="0.3">-14</text>
<text x="1326.20" y="759.22" font-size="13.6" text-anchor="middle" fill="#262626" letter-spacing="0.3">-12</text>
<text x="1357.60" y="759.22" font-size="13.6" text-anchor="middle" fill="#262626" letter-spacing="0.3">-0</text>
<text x="1389.00" y="759.22" font-size="13.6" text-anchor="middle" fill="#262626" letter-spacing="0.3">0</text>
<text x="1420.40" y="759.22" font-size="13.6" text-anchor="middle" fill="#262626" letter-spacing="0.3">-12</text>
<text x="1451.80" y="759.22" font-size="13.6" text-anchor="middle" fill="#262626" letter-spacing="0.3">-13</text>
<text x="1483.20" y="759.22" font-size="13.6" text-anchor="middle" fill="#262626" letter-spacing="0.3">-6</text>
<text x="1043.60" y="788.58" font-size="13.6" text-anchor="middle" fill="#262626" letter-spacing="0.3">-16</text>
<text x="1075.00" y="788.58" font-size="13.6" text-anchor="middle" fill="#262626" letter-spacing="0.3">-16</text>
<text x="1106.40" y="788.58" font-size="13.6" text-anchor="middle" fill="#262626" letter-spacing="0.3">-12</text>
<text x="1137.80" y="788.58" font-size="13.6" text-anchor="middle" fill="#262626" letter-spacing="0.3">-19</text>
<text x="1169.20" y="788.58" font-size="13.6" text-anchor="middle" fill="#fff" letter-spacing="0.3">-24</text>
<text x="1200.60" y="788.58" font-size="13.6" text-anchor="middle" fill="#262626" letter-spacing="0.3">-18</text>
<text x="1232.00" y="788.58" font-size="13.6" text-anchor="middle" fill="#262626" letter-spacing="0.3">-12</text>
<text x="1263.40" y="788.58" font-size="13.6" text-anchor="middle" fill="#262626" letter-spacing="0.3">-15</text>
<text x="1294.80" y="788.58" font-size="13.6" text-anchor="middle" fill="#262626" letter-spacing="0.3">-23</text>
<text x="1326.20" y="788.58" font-size="13.6" text-anchor="middle" fill="#262626" letter-spacing="0.3">-21</text>
<text x="1357.60" y="788.58" font-size="13.6" text-anchor="middle" fill="#262626" letter-spacing="0.3">-23</text>
<text x="1389.00" y="788.58" font-size="13.6" text-anchor="middle" fill="#262626" letter-spacing="0.3">-16</text>
<text x="1420.40" y="788.58" font-size="13.6" text-anchor="middle" fill="#262626" letter-spacing="0.3">0</text>
<text x="1451.80" y="788.58" font-size="13.6" text-anchor="middle" fill="#262626" letter-spacing="0.3">-18</text>
<text x="1483.20" y="788.58" font-size="13.6" text-anchor="middle" fill="#262626" letter-spacing="0.3">-20</text>
<text x="1043.60" y="817.92" font-size="13.6" text-anchor="middle" fill="#262626" letter-spacing="0.3">-10</text>
<text x="1075.00" y="817.92" font-size="13.6" text-anchor="middle" fill="#262626" letter-spacing="0.3">-18</text>
<text x="1106.40" y="817.92" font-size="13.6" text-anchor="middle" fill="#262626" letter-spacing="0.3">-9</text>
<text x="1137.80" y="817.92" font-size="13.6" text-anchor="middle" fill="#262626" letter-spacing="0.3">-21</text>
<text x="1169.20" y="817.92" font-size="13.6" text-anchor="middle" fill="#fff" letter-spacing="0.3">-26</text>
<text x="1200.60" y="817.92" font-size="13.6" text-anchor="middle" fill="#262626" letter-spacing="0.3">-16</text>
<text x="1232.00" y="817.92" font-size="13.6" text-anchor="middle" fill="#262626" letter-spacing="0.3">-15</text>
<text x="1263.40" y="817.92" font-size="13.6" text-anchor="middle" fill="#262626" letter-spacing="0.3">-18</text>
<text x="1294.80" y="817.92" font-size="13.6" text-anchor="middle" fill="#fff" letter-spacing="0.3">-25</text>
<text x="1326.20" y="817.92" font-size="13.6" text-anchor="middle" fill="#fff" letter-spacing="0.3">-24</text>
<text x="1357.60" y="817.92" font-size="13.6" text-anchor="middle" fill="#262626" letter-spacing="0.3">-18</text>
<text x="1389.00" y="817.92" font-size="13.6" text-anchor="middle" fill="#262626" letter-spacing="0.3">-19</text>
<text x="1420.40" y="817.92" font-size="13.6" text-anchor="middle" fill="#262626" letter-spacing="0.3">-14</text>
<text x="1451.80" y="817.92" font-size="13.6" text-anchor="middle" fill="#262626" letter-spacing="0.3">0</text>
<text x="1483.20" y="817.92" font-size="13.6" text-anchor="middle" fill="#262626" letter-spacing="0.3">-13</text>
<text x="1043.60" y="847.27" font-size="13.6" text-anchor="middle" fill="#262626" letter-spacing="0.3">-10</text>
<text x="1075.00" y="847.27" font-size="13.6" text-anchor="middle" fill="#262626" letter-spacing="0.3">-15</text>
<text x="1106.40" y="847.27" font-size="13.6" text-anchor="middle" fill="#262626" letter-spacing="0.3">-9</text>
<text x="1137.80" y="847.27" font-size="13.6" text-anchor="middle" fill="#262626" letter-spacing="0.3">-21</text>
<text x="1169.20" y="847.27" font-size="13.6" text-anchor="middle" fill="#fff" letter-spacing="0.3">-24</text>
<text x="1200.60" y="847.27" font-size="13.6" text-anchor="middle" fill="#262626" letter-spacing="0.3">-14</text>
<text x="1232.00" y="847.27" font-size="13.6" text-anchor="middle" fill="#262626" letter-spacing="0.3">-13</text>
<text x="1263.40" y="847.27" font-size="13.6" text-anchor="middle" fill="#262626" letter-spacing="0.3">-13</text>
<text x="1294.80" y="847.27" font-size="13.6" text-anchor="middle" fill="#fff" letter-spacing="0.3">-24</text>
<text x="1326.20" y="847.27" font-size="13.6" text-anchor="middle" fill="#262626" letter-spacing="0.3">-23</text>
<text x="1357.60" y="847.27" font-size="13.6" text-anchor="middle" fill="#262626" letter-spacing="0.3">-18</text>
<text x="1389.00" y="847.27" font-size="13.6" text-anchor="middle" fill="#262626" letter-spacing="0.3">-18</text>
<text x="1420.40" y="847.27" font-size="13.6" text-anchor="middle" fill="#262626" letter-spacing="0.3">-21</text>
<text x="1451.80" y="847.27" font-size="13.6" text-anchor="middle" fill="#262626" letter-spacing="0.3">-15</text>
<text x="1483.20" y="847.27" font-size="13.6" text-anchor="middle" fill="#262626" letter-spacing="0.3">0</text>
<rect x="1214.70" y="418.2" width="3.2" height="440.25" fill="#111"/>
<rect x="1027.9" y="592.70" width="471.00" height="3.2" fill="#111"/>
<rect x="1340.30" y="418.2" width="3.2" height="440.25" fill="#111"/>
<rect x="1027.9" y="710.10" width="471.00" height="3.2" fill="#111"/>
<text x="1020.2" y="436.27" font-size="13.3" text-anchor="end" fill="#1a1aff">BERT base</text>
<text transform="translate(1045.40,867.6) rotate(-90)" font-size="13.3" text-anchor="end" fill="#1a1aff">BERT base</text>
<text x="1020.2" y="465.62" font-size="13.3" text-anchor="end" fill="#1a1aff">BERT large</text>
<text transform="translate(1076.80,867.6) rotate(-90)" font-size="13.3" text-anchor="end" fill="#1a1aff">BERT large</text>
<text x="1020.2" y="494.97" font-size="13.3" text-anchor="end" fill="#1a1aff">DistilBERT</text>
<text transform="translate(1108.20,867.6) rotate(-90)" font-size="13.3" text-anchor="end" fill="#1a1aff">DistilBERT</text>
<text x="1020.2" y="524.32" font-size="13.3" text-anchor="end" fill="#1a1aff">RoBERTa base</text>
<text transform="translate(1139.60,867.6) rotate(-90)" font-size="13.3" text-anchor="end" fill="#1a1aff">RoBERTa base</text>
<text x="1020.2" y="553.67" font-size="13.3" text-anchor="end" fill="#1a1aff">RoBERTa large</text>
<text transform="translate(1171.00,867.6) rotate(-90)" font-size="13.3" text-anchor="end" fill="#1a1aff">RoBERTa large</text>
<text x="1020.2" y="583.02" font-size="13.3" text-anchor="end" fill="#1a1aff">DistilRoBERTa</text>
<text transform="translate(1202.40,867.6) rotate(-90)" font-size="13.3" text-anchor="end" fill="#1a1aff">DistilRoBERTa</text>
<text x="1020.2" y="612.37" font-size="13.3" text-anchor="end" fill="#b23a3a">GPT2</text>
<text transform="translate(1233.80,867.6) rotate(-90)" font-size="13.3" text-anchor="end" fill="#b23a3a">GPT2</text>
<text x="1020.2" y="641.72" font-size="13.3" text-anchor="end" fill="#b23a3a">GPT2 medium</text>
<text transform="translate(1265.20,867.6) rotate(-90)" font-size="13.3" text-anchor="end" fill="#b23a3a">GPT2 medium</text>
<text x="1020.2" y="671.07" font-size="13.3" text-anchor="end" fill="#b23a3a">GPT2 large</text>
<text transform="translate(1296.60,867.6) rotate(-90)" font-size="13.3" text-anchor="end" fill="#b23a3a">GPT2 large</text>
<text x="1020.2" y="700.42" font-size="13.3" text-anchor="end" fill="#b23a3a">GPT2 XL</text>
<text transform="translate(1328.00,867.6) rotate(-90)" font-size="13.3" text-anchor="end" fill="#b23a3a">GPT2 XL</text>
<text x="1020.2" y="729.77" font-size="13.3" text-anchor="end" fill="#2a9a2a">BART base</text>
<text transform="translate(1359.40,867.6) rotate(-90)" font-size="13.3" text-anchor="end" fill="#2a9a2a">BART base</text>
<text x="1020.2" y="759.12" font-size="13.3" text-anchor="end" fill="#2a9a2a">BART large</text>
<text transform="translate(1390.80,867.6) rotate(-90)" font-size="13.3" text-anchor="end" fill="#2a9a2a">BART large</text>
<text x="1020.2" y="788.48" font-size="13.3" text-anchor="end" fill="#2a9a2a">T5 small</text>
<text transform="translate(1422.20,867.6) rotate(-90)" font-size="13.3" text-anchor="end" fill="#2a9a2a">T5 small</text>
<text x="1020.2" y="817.82" font-size="13.3" text-anchor="end" fill="#2a9a2a">T5 base</text>
<text transform="translate(1453.60,867.6) rotate(-90)" font-size="13.3" text-anchor="end" fill="#2a9a2a">T5 base</text>
<text x="1020.2" y="847.17" font-size="13.3" text-anchor="end" fill="#2a9a2a">T5 large</text>
<text transform="translate(1485.00,867.6) rotate(-90)" font-size="13.3" text-anchor="end" fill="#2a9a2a">T5 large</text>
<text x="1263.6" y="972" font-size="13.6" text-anchor="middle" fill="#444">Source LM</text>
<text transform="translate(921.5,639.3) rotate(-90)" font-size="13.6" text-anchor="middle" fill="#444">Target LM</text>
<defs><linearGradient id="cb" x1="0" y1="0" x2="0" y2="1"><stop offset="0" stop-color="rgb(72,120,208)"/><stop offset="0.5" stop-color="rgb(242,242,243)"/><stop offset="1" stop-color="rgb(217,66,110)"/></linearGradient></defs>
<rect x="1528.4" y="418.2" width="21.6" height="440.25" fill="url(#cb)"/>
<rect x="1550" y="451.78" width="5.2" height="1.1" fill="#444"/>
<text x="1557.8" y="455.53" font-size="8.9" fill="#444">40</text>
<rect x="1550" y="545.08" width="5.2" height="1.1" fill="#444"/>
<text x="1557.8" y="548.83" font-size="8.9" fill="#444">20</text>
<rect x="1550" y="638.38" width="5.2" height="1.1" fill="#444"/>
<text x="1557.8" y="642.13" font-size="8.9" fill="#444">0</text>
<rect x="1550" y="731.68" width="5.2" height="1.1" fill="#444"/>
<text x="1557.8" y="735.43" font-size="8.9" fill="#444">−20</text>
<rect x="1550" y="824.98" width="5.2" height="1.1" fill="#444"/>
<text x="1557.8" y="828.73" font-size="8.9" fill="#444">−40</text>
</svg>
<div style="position:absolute;left:880.40px;top:1001.47px;white-space:nowrap;font-family:'Liberation Sans', sans-serif;font-size:32.7px;line-height:40px;color:#000;font-weight:bold;font-style:normal;text-align:left;">Mixed-training</div>
<div style="position:absolute;left:879.80px;top:1048.50px;width:680.8px;font-family:'Liberation Sans', sans-serif;font-size:20.2px;line-height:29.2px;color:#2e4353;font-weight:normal;font-style:normal;text-align:justify;text-align-last:justify;white-space:nowrap;">We extend the AutoPrompt algorithm to use two LMs instead of one: the</div>
<div style="position:absolute;left:879.80px;top:1077.70px;width:680.8px;font-family:'Liberation Sans', sans-serif;font-size:20.2px;line-height:29.2px;color:#2e4353;font-weight:normal;font-style:normal;text-align:justify;text-align-last:justify;white-space:nowrap;"><b>Generator</b> proposes a set of candidates and the <b>Evaluator</b> evaluates the</div>
<div style="position:absolute;left:879.80px;top:1106.90px;width:680.8px;font-family:'Liberation Sans', sans-serif;font-size:20.2px;line-height:29.2px;color:#2e4353;font-weight:normal;font-style:normal;text-align:left;white-space:nowrap;">candidates and chooses the best one.</div>
<div style="position:absolute;left:650.00px;top:1153.97px;width:1200px;font-family:'Liberation Sans', sans-serif;font-size:12.5px;line-height:15.0px;color:#2e4353;font-weight:normal;font-style:normal;text-align:center;">Comparison between single-model-training and mixed-training</div>
<!-- right -->
<div style="position:absolute;left:1747.70px;top:273.40px;white-space:nowrap;font-family:'Liberation Sans', sans-serif;font-size:20.2px;line-height:29.2px;color:#2e4353;font-weight:normal;font-style:normal;text-align:left;">Prompts induced by mixed AutoPrompt generalize better across models.</div>
<div style="position:absolute;left:1510.00px;top:307.37px;width:1200px;font-family:'Liberation Sans', sans-serif;font-size:12.5px;line-height:15.0px;color:#2e4353;font-weight:normal;font-style:normal;text-align:center;">Mixed AutoPrompt performance</div>
<svg style="position:absolute;left:0;top:0;width:2500px;height:1666px" viewBox="0 0 2500 1666" font-family="Liberation Sans, sans-serif">
<rect x="1840.16" y="348.75" width="9.16" height="360.65" fill="#000"/>
<rect x="1849.32" y="348.75" width="9.16" height="360.65" fill="#ffa500"/>
<rect x="1858.48" y="411.32" width="9.16" height="298.08" fill="#0000ff"/>
<rect x="1853.35" y="709.40" width="1.1" height="6.6" fill="#222"/>
<text transform="translate(1858.30,725.40) rotate(-90)" font-size="16.8" text-anchor="end" fill="#222">BERT-base</text>
<rect x="1876.82" y="352.86" width="9.16" height="356.54" fill="#000"/>
<rect x="1885.98" y="371.00" width="9.16" height="338.40" fill="#ffa500"/>
<rect x="1895.14" y="417.80" width="9.16" height="291.60" fill="#0000ff"/>
<rect x="1890.01" y="709.40" width="1.1" height="6.6" fill="#222"/>
<text transform="translate(1894.96,725.40) rotate(-90)" font-size="16.8" text-anchor="end" fill="#222">BERT-large</text>
<rect x="1913.48" y="494.91" width="9.16" height="214.49" fill="#000"/>
<rect x="1922.64" y="594.92" width="9.16" height="114.48" fill="#ffa500"/>
<rect x="1931.80" y="599.96" width="9.16" height="109.44" fill="#0000ff"/>
<rect x="1926.67" y="709.40" width="1.1" height="6.6" fill="#222"/>
<text transform="translate(1931.62,725.40) rotate(-90)" font-size="16.8" text-anchor="end" fill="#222">DistillBERT</text>
<rect x="1950.14" y="424.06" width="9.16" height="285.34" fill="#000"/>
<rect x="1959.30" y="476.12" width="9.16" height="233.28" fill="#ffa500"/>
<rect x="1968.46" y="449.48" width="9.16" height="259.92" fill="#0000ff"/>
<rect x="1963.33" y="709.40" width="1.1" height="6.6" fill="#222"/>
<text transform="translate(1968.28,725.40) rotate(-90)" font-size="16.8" text-anchor="end" fill="#222">RoBERTa-base</text>
<rect x="1986.80" y="391.74" width="9.16" height="317.66" fill="#000"/>
<rect x="1995.96" y="436.52" width="9.16" height="272.88" fill="#ffa500"/>
<rect x="2005.12" y="430.76" width="9.16" height="278.64" fill="#0000ff"/>
<rect x="1999.99" y="709.40" width="1.1" height="6.6" fill="#222"/>
<text transform="translate(2004.94,725.40) rotate(-90)" font-size="16.8" text-anchor="end" fill="#222">RoBERTa-large</text>
<rect x="2023.46" y="412.98" width="9.16" height="296.42" fill="#000"/>
<rect x="2032.62" y="479.72" width="9.16" height="229.68" fill="#ffa500"/>
<rect x="2041.78" y="467.48" width="9.16" height="241.92" fill="#0000ff"/>
<rect x="2036.65" y="709.40" width="1.1" height="6.6" fill="#222"/>
<text transform="translate(2041.60,725.40) rotate(-90)" font-size="16.8" text-anchor="end" fill="#222">DistilRoBERTa</text>
<rect x="2060.12" y="627.61" width="9.16" height="81.79" fill="#000"/>
<rect x="2069.28" y="675.56" width="9.16" height="33.84" fill="#ffa500"/>
<rect x="2078.44" y="635.96" width="9.16" height="73.44" fill="#0000ff"/>
<rect x="2073.31" y="709.40" width="1.1" height="6.6" fill="#222"/>
<text transform="translate(2078.26,725.40) rotate(-90)" font-size="16.8" text-anchor="end" fill="#222">GPT2</text>
<rect x="2096.78" y="575.55" width="9.16" height="133.85" fill="#000"/>
<rect x="2105.94" y="604.28" width="9.16" height="105.12" fill="#ffa500"/>
<rect x="2115.10" y="591.32" width="9.16" height="118.08" fill="#0000ff"/>
<rect x="2109.97" y="709.40" width="1.1" height="6.6" fill="#222"/>
<text transform="translate(2114.92,725.40) rotate(-90)" font-size="16.8" text-anchor="end" fill="#222">GPT2-medium</text>
<rect x="2133.44" y="616.45" width="9.16" height="92.95" fill="#000"/>
<rect x="2142.60" y="579.08" width="9.16" height="130.32" fill="#ffa500"/>
<rect x="2151.76" y="548.12" width="9.16" height="161.28" fill="#0000ff"/>
<rect x="2146.63" y="709.40" width="1.1" height="6.6" fill="#222"/>
<text transform="translate(2151.58,725.40) rotate(-90)" font-size="16.8" text-anchor="end" fill="#222">GPT2-large</text>
<rect x="2170.10" y="598.38" width="9.16" height="111.02" fill="#000"/>
<rect x="2179.26" y="576.92" width="9.16" height="132.48" fill="#ffa500"/>
<rect x="2188.42" y="566.12" width="9.16" height="143.28" fill="#0000ff"/>
<rect x="2183.29" y="709.40" width="1.1" height="6.6" fill="#222"/>
<text transform="translate(2188.24,725.40) rotate(-90)" font-size="16.8" text-anchor="end" fill="#222">GPT2-xl</text>
<rect x="2206.76" y="424.06" width="9.16" height="285.34" fill="#000"/>
<rect x="2215.92" y="499.88" width="9.16" height="209.52" fill="#ffa500"/>
<rect x="2225.08" y="459.56" width="9.16" height="249.84" fill="#0000ff"/>
<rect x="2219.95" y="709.40" width="1.1" height="6.6" fill="#222"/>
<text transform="translate(2224.90,725.40) rotate(-90)" font-size="16.8" text-anchor="end" fill="#222">BART-base</text>
<rect x="2243.42" y="518.17" width="9.16" height="191.23" fill="#000"/>
<rect x="2252.58" y="515.72" width="9.16" height="193.68" fill="#ffa500"/>
<rect x="2261.74" y="465.32" width="9.16" height="244.08" fill="#0000ff"/>
<rect x="2256.61" y="709.40" width="1.1" height="6.6" fill="#222"/>
<text transform="translate(2261.56,725.40) rotate(-90)" font-size="16.8" text-anchor="end" fill="#222">BART-large</text>
<rect x="2280.08" y="483.03" width="9.16" height="226.37" fill="#000"/>
<rect x="2289.24" y="594.92" width="9.16" height="114.48" fill="#ffa500"/>
<rect x="2298.40" y="569.72" width="9.16" height="139.68" fill="#0000ff"/>
<rect x="2293.27" y="709.40" width="1.1" height="6.6" fill="#222"/>
<text transform="translate(2298.22,725.40) rotate(-90)" font-size="16.8" text-anchor="end" fill="#222">T5-small</text>
<rect x="2316.74" y="449.48" width="9.16" height="259.92" fill="#000"/>
<rect x="2325.90" y="497.72" width="9.16" height="211.68" fill="#ffa500"/>
<rect x="2335.06" y="445.16" width="9.16" height="264.24" fill="#0000ff"/>
<rect x="2329.93" y="709.40" width="1.1" height="6.6" fill="#222"/>
<text transform="translate(2334.88,725.40) rotate(-90)" font-size="16.8" text-anchor="end" fill="#222">T5-base</text>
<rect x="2353.40" y="407.00" width="9.16" height="302.40" fill="#000"/>
<rect x="2362.56" y="476.12" width="9.16" height="233.28" fill="#ffa500"/>
<rect x="2371.72" y="388.28" width="9.16" height="321.12" fill="#0000ff"/>
<rect x="2366.59" y="709.40" width="1.1" height="6.6" fill="#222"/>
<text transform="translate(2371.54,725.40) rotate(-90)" font-size="16.8" text-anchor="end" fill="#222">T5-large</text>
<rect x="1813.2" y="335.4" width="595.00" height="374.00" fill="none" stroke="#222" stroke-width="1.1"/>
<rect x="1807.20" y="708.85" width="6" height="1.1" fill="#222"/>
<text x="1800.60" y="716.40" font-size="16.3" text-anchor="end" fill="#222">0</text>
<rect x="1807.20" y="636.85" width="6" height="1.1" fill="#222"/>
<text x="1800.60" y="644.40" font-size="16.3" text-anchor="end" fill="#222">10</text>
<rect x="1807.20" y="564.85" width="6" height="1.1" fill="#222"/>
<text x="1800.60" y="572.40" font-size="16.3" text-anchor="end" fill="#222">20</text>
<rect x="1807.20" y="492.85" width="6" height="1.1" fill="#222"/>
<text x="1800.60" y="500.40" font-size="16.3" text-anchor="end" fill="#222">30</text>
<rect x="1807.20" y="420.85" width="6" height="1.1" fill="#222"/>
<text x="1800.60" y="428.40" font-size="16.3" text-anchor="end" fill="#222">40</text>
<rect x="1807.20" y="348.85" width="6" height="1.1" fill="#222"/>
<text x="1800.60" y="356.40" font-size="16.3" text-anchor="end" fill="#222">50</text>
<text transform="translate(1770.5,522.5) rotate(-90)" font-size="17.6" text-anchor="middle" fill="#222">accuracy</text>
<text x="2108.2" y="859.2" font-size="17.8" text-anchor="middle" fill="#222">targets</text>
<rect x="2002.4" y="343.8" width="215.9" height="79.5" rx="3" fill="#fff" fill-opacity="0.8" stroke="#ccc" stroke-width="1"/>
<rect x="2008.3" y="351.40" width="33.4" height="11.2" fill="#000"/>
<text x="2056" y="362.60" font-size="17.6" fill="#222">source=target</text>
<rect x="2008.3" y="376.60" width="33.4" height="11.2" fill="#ffa500"/>
<text x="2056" y="387.80" font-size="17.6" fill="#222">source=BERT-base</text>
<rect x="2008.3" y="401.80" width="33.4" height="11.2" fill="#0000ff"/>
<text x="2056" y="413.00" font-size="17.6" fill="#222">source=mixed</text>
<rect x="1824.25" y="1277.43" width="38.70" height="169.07" fill="#3b75af"/>
<rect x="1843.20" y="1446.50" width="0.8" height="2.6" fill="#555"/>
<text x="1843.60" y="1458.10" font-size="7.8" text-anchor="middle" fill="#333">1</text>
<rect x="1872.68" y="1276.31" width="38.70" height="170.19" fill="#3b75af"/>
<rect x="1891.63" y="1446.50" width="0.8" height="2.6" fill="#555"/>
<text x="1892.03" y="1458.10" font-size="7.8" text-anchor="middle" fill="#333">2</text>
<rect x="1921.11" y="1300.15" width="38.70" height="146.35" fill="#3b75af"/>
<rect x="1940.06" y="1446.50" width="0.8" height="2.6" fill="#555"/>
<text x="1940.46" y="1458.10" font-size="7.8" text-anchor="middle" fill="#333">3</text>
<rect x="1969.54" y="1331.80" width="38.70" height="114.70" fill="#3b75af"/>
<rect x="1988.49" y="1446.50" width="0.8" height="2.6" fill="#555"/>
<text x="1988.89" y="1458.10" font-size="7.8" text-anchor="middle" fill="#333">4</text>
<rect x="2017.97" y="1420.99" width="38.70" height="25.51" fill="#3b75af"/>
<rect x="2036.92" y="1446.50" width="0.8" height="2.6" fill="#555"/>
<text x="2037.32" y="1458.10" font-size="7.8" text-anchor="middle" fill="#333">5</text>
<line x1="1812.3" y1="1259.56" x2="2068.9" y2="1259.56" stroke="#222" stroke-width="1" stroke-dasharray="3.6,1.6"/>
<rect x="1812.3" y="1256.5" width="256.60" height="190.00" fill="none" stroke="#858585" stroke-width="1.25"/>
<rect x="1809.70" y="1446.10" width="2.6" height="0.8" fill="#555"/>
<text x="1807.90" y="1449.40" font-size="8.1" text-anchor="end" fill="#333">0</text>
<rect x="1809.70" y="1408.86" width="2.6" height="0.8" fill="#555"/>
<text x="1807.90" y="1412.16" font-size="8.1" text-anchor="end" fill="#333">10</text>
<rect x="1809.70" y="1371.62" width="2.6" height="0.8" fill="#555"/>
<text x="1807.90" y="1374.92" font-size="8.1" text-anchor="end" fill="#333">20</text>
<rect x="1809.70" y="1334.38" width="2.6" height="0.8" fill="#555"/>
<text x="1807.90" y="1337.68" font-size="8.1" text-anchor="end" fill="#333">30</text>
<rect x="1809.70" y="1297.14" width="2.6" height="0.8" fill="#555"/>
<text x="1807.90" y="1300.44" font-size="8.1" text-anchor="end" fill="#333">40</text>
<rect x="1809.70" y="1259.90" width="2.6" height="0.8" fill="#555"/>
<text x="1807.90" y="1263.20" font-size="8.1" text-anchor="end" fill="#333">50</text>
<text transform="translate(1792.80,1351.50) rotate(-90)" font-size="7.8" text-anchor="middle" fill="#333">accuracy</text>
<rect x="2120.55" y="1306.85" width="38.70" height="139.65" fill="#3b75af"/>
<rect x="2139.50" y="1446.50" width="0.8" height="2.6" fill="#555"/>
<text x="2139.90" y="1458.10" font-size="7.8" text-anchor="middle" fill="#333">1</text>
<rect x="2168.98" y="1307.97" width="38.70" height="138.53" fill="#3b75af"/>
<rect x="2187.93" y="1446.50" width="0.8" height="2.6" fill="#555"/>
<text x="2188.33" y="1458.10" font-size="7.8" text-anchor="middle" fill="#333">2</text>
<rect x="2217.41" y="1299.03" width="38.70" height="147.47" fill="#3b75af"/>
<rect x="2236.36" y="1446.50" width="0.8" height="2.6" fill="#555"/>
<text x="2236.76" y="1458.10" font-size="7.8" text-anchor="middle" fill="#333">3</text>
<rect x="2265.84" y="1351.91" width="38.70" height="94.59" fill="#3b75af"/>
<rect x="2284.79" y="1446.50" width="0.8" height="2.6" fill="#555"/>
<text x="2285.19" y="1458.10" font-size="7.8" text-anchor="middle" fill="#333">4</text>
<rect x="2314.27" y="1404.05" width="38.70" height="42.45" fill="#3b75af"/>
<rect x="2333.22" y="1446.50" width="0.8" height="2.6" fill="#555"/>
<text x="2333.62" y="1458.10" font-size="7.8" text-anchor="middle" fill="#333">5</text>
<line x1="2108.6" y1="1293.07" x2="2365.2" y2="1293.07" stroke="#222" stroke-width="1" stroke-dasharray="3.6,1.6"/>
<rect x="2108.6" y="1256.5" width="256.60" height="190.00" fill="none" stroke="#858585" stroke-width="1.25"/>
<rect x="2106.00" y="1446.10" width="2.6" height="0.8" fill="#555"/>
<text x="2104.20" y="1449.40" font-size="8.1" text-anchor="end" fill="#333">0</text>
<rect x="2106.00" y="1408.86" width="2.6" height="0.8" fill="#555"/>
<text x="2104.20" y="1412.16" font-size="8.1" text-anchor="end" fill="#333">10</text>
<rect x="2106.00" y="1371.62" width="2.6" height="0.8" fill="#555"/>
<text x="2104.20" y="1374.92" font-size="8.1" text-anchor="end" fill="#333">20</text>
<rect x="2106.00" y="1334.38" width="2.6" height="0.8" fill="#555"/>
<text x="2104.20" y="1337.68" font-size="8.1" text-anchor="end" fill="#333">30</text>
<rect x="2106.00" y="1297.14" width="2.6" height="0.8" fill="#555"/>
<text x="2104.20" y="1300.44" font-size="8.1" text-anchor="end" fill="#333">40</text>
<rect x="2106.00" y="1259.90" width="2.6" height="0.8" fill="#555"/>
<text x="2104.20" y="1263.20" font-size="8.1" text-anchor="end" fill="#333">50</text>
<text transform="translate(2089.10,1351.50) rotate(-90)" font-size="7.8" text-anchor="middle" fill="#333">accuracy</text>
</svg>
<div style="position:absolute;left:1744.50px;top:869.57px;white-space:nowrap;font-family:'Liberation Sans', sans-serif;font-size:32.7px;line-height:40px;color:#000;font-weight:bold;font-style:normal;text-align:left;">Prompt Analysis</div>
<div style="position:absolute;left:1744.20px;top:916.30px;width:681.1px;font-family:'Liberation Sans', sans-serif;font-size:20.2px;line-height:29.2px;color:#2e4353;font-weight:normal;font-style:normal;text-align:justify;text-align-last:justify;white-space:nowrap;">Generalizing prompts tend to feature a larger proportion of existing English</div>
<div style="position:absolute;left:1744.20px;top:945.50px;width:681.1px;font-family:'Liberation Sans', sans-serif;font-size:20.2px;line-height:29.2px;color:#2e4353;font-weight:normal;font-style:normal;text-align:justify;text-align-last:justify;white-space:nowrap;">words, and to be more robust to ablations that probe sensitivity to token</div>
<div style="position:absolute;left:1744.20px;top:974.70px;width:681.1px;font-family:'Liberation Sans', sans-serif;font-size:20.2px;line-height:29.2px;color:#2e4353;font-weight:normal;font-style:normal;text-align:left;white-space:nowrap;">order and asymmetries in information distribution.</div>
<div style="position:absolute;left:1745.20px;top:1023.92px;white-space:nowrap;font-family:'Liberation Serif', serif;font-size:19.6px;line-height:23.52px;color:#000;font-weight:normal;font-style:italic;text-align:left;">training LM(s)</div>
<div style="position:absolute;left:1411.50px;top:1023.92px;width:1200px;font-family:'Liberation Serif', serif;font-size:19.6px;line-height:23.52px;color:#000;font-weight:normal;font-style:italic;text-align:center;">semantic</div>
<div style="position:absolute;left:1411.50px;top:1045.62px;width:1200px;font-family:'Liberation Serif', serif;font-size:19.6px;line-height:23.52px;color:#000;font-weight:normal;font-style:italic;text-align:center;">overlap</div>
<div style="position:absolute;left:1510.00px;top:1023.92px;width:1200px;font-family:'Liberation Serif', serif;font-size:19.6px;line-height:23.52px;color:#000;font-weight:normal;font-style:italic;text-align:center;">real-word</div>
<div style="position:absolute;left:1510.00px;top:1045.62px;width:1200px;font-family:'Liberation Serif', serif;font-size:19.6px;line-height:23.52px;color:#000;font-weight:normal;font-style:italic;text-align:center;">ratio</div>
<div style="position:absolute;left:1686.40px;top:1023.92px;width:1200px;font-family:'Liberation Serif', serif;font-size:19.6px;line-height:23.52px;color:#000;font-weight:normal;font-style:italic;text-align:center;">shuffled accuracy</div>
<div style="position:absolute;left:1635.60px;top:1045.62px;width:1200px;font-family:'Liberation Serif', serif;font-size:19.6px;line-height:23.52px;color:#000;font-weight:normal;font-style:italic;text-align:center;">non-normalized</div>
<div style="position:absolute;left:1760.80px;top:1045.62px;width:1200px;font-family:'Liberation Serif', serif;font-size:19.6px;line-height:23.52px;color:#000;font-weight:normal;font-style:italic;text-align:center;">ratio</div>
<div style="position:absolute;left:1741.40px;top:1069.75px;width:669.60px;height:1.10px;background:#444;"></div>
<div style="position:absolute;left:1963.75px;top:1026.70px;width:1.10px;height:174.10px;background:#444;"></div>
<div style="position:absolute;left:2058.45px;top:1026.70px;width:1.10px;height:174.10px;background:#444;"></div>
<div style="position:absolute;left:2160.95px;top:1026.70px;width:1.10px;height:174.10px;background:#444;"></div>
<div style="position:absolute;left:1745.20px;top:1068.12px;white-space:nowrap;font-family:'Liberation Serif', serif;font-size:19.6px;line-height:23.52px;color:#000;font-weight:bold;font-style:normal;text-align:left;">BERT<span style="font-size:13.8px;position:relative;top:3.0px;line-height:0">BASE</span></div>
<div style="position:absolute;left:1976.40px;top:1068.12px;white-space:nowrap;font-family:'Liberation Serif', serif;font-size:19.6px;line-height:23.52px;color:#000;font-weight:normal;font-style:normal;text-align:left;">5.3*</div>
<div style="position:absolute;left:1548.60px;top:1068.12px;width:600px;font-family:'Liberation Serif', serif;font-size:19.6px;line-height:23.52px;color:#000;font-weight:normal;font-style:normal;text-align:right;">81.7</div>
<div style="position:absolute;left:1698.40px;top:1068.12px;width:600px;font-family:'Liberation Serif', serif;font-size:19.6px;line-height:23.52px;color:#000;font-weight:normal;font-style:normal;text-align:right;">11.5 (3.1)</div>
<div style="position:absolute;left:1799.40px;top:1068.12px;width:600px;font-family:'Liberation Serif', serif;font-size:19.6px;line-height:23.52px;color:#000;font-weight:normal;font-style:normal;text-align:right;">23.0 (6.2)</div>
<div style="position:absolute;left:1745.20px;top:1089.78px;white-space:nowrap;font-family:'Liberation Serif', serif;font-size:19.6px;line-height:23.52px;color:#000;font-weight:bold;font-style:normal;text-align:left;">GPT2<span style="font-size:13.8px;position:relative;top:3.0px;line-height:0">MEDIUM</span></div>
<div style="position:absolute;left:1976.40px;top:1089.78px;white-space:nowrap;font-family:'Liberation Serif', serif;font-size:19.6px;line-height:23.52px;color:#000;font-weight:normal;font-style:normal;text-align:left;">0.97</div>
<div style="position:absolute;left:1548.60px;top:1089.78px;width:600px;font-family:'Liberation Serif', serif;font-size:19.6px;line-height:23.52px;color:#000;font-weight:normal;font-style:normal;text-align:right;">68.8</div>
<div style="position:absolute;left:1698.40px;top:1089.78px;width:600px;font-family:'Liberation Serif', serif;font-size:19.6px;line-height:23.52px;color:#000;font-weight:normal;font-style:normal;text-align:right;">6.0 (1.2)</div>
<div style="position:absolute;left:1799.40px;top:1089.78px;width:600px;font-family:'Liberation Serif', serif;font-size:19.6px;line-height:23.52px;color:#000;font-weight:normal;font-style:normal;text-align:right;">32.4 (6.7)</div>
<div style="position:absolute;left:1745.20px;top:1111.42px;white-space:nowrap;font-family:'Liberation Serif', serif;font-size:19.6px;line-height:23.52px;color:#000;font-weight:bold;font-style:normal;text-align:left;">T5<span style="font-size:13.8px;position:relative;top:3.0px;line-height:0">LARGE</span></div>
<div style="position:absolute;left:1976.40px;top:1111.42px;white-space:nowrap;font-family:'Liberation Serif', serif;font-size:19.6px;line-height:23.52px;color:#000;font-weight:normal;font-style:normal;text-align:left;">2.43*</div>
<div style="position:absolute;left:1548.60px;top:1111.42px;width:600px;font-family:'Liberation Serif', serif;font-size:19.6px;line-height:23.52px;color:#000;font-weight:normal;font-style:normal;text-align:right;">71.9</div>
<div style="position:absolute;left:1698.40px;top:1111.42px;width:600px;font-family:'Liberation Serif', serif;font-size:19.6px;line-height:23.52px;color:#000;font-weight:normal;font-style:normal;text-align:right;">15.1 (2.6)</div>
<div style="position:absolute;left:1799.40px;top:1111.42px;width:600px;font-family:'Liberation Serif', serif;font-size:19.6px;line-height:23.52px;color:#000;font-weight:normal;font-style:normal;text-align:right;">36.0 (6.1)</div>
<div style="position:absolute;left:1745.20px;top:1133.08px;white-space:nowrap;font-family:'Liberation Serif', serif;font-size:19.6px;line-height:23.52px;color:#000;font-weight:bold;font-style:normal;text-align:left;">BERT<span style="font-size:13.8px;position:relative;top:3.0px;line-height:0">BASE</span>/T5<span style="font-size:13.8px;position:relative;top:3.0px;line-height:0">LARGE</span></div>
<div style="position:absolute;left:1976.40px;top:1133.08px;white-space:nowrap;font-family:'Liberation Serif', serif;font-size:19.6px;line-height:23.52px;color:#000;font-weight:normal;font-style:normal;text-align:left;">3.29*</div>
<div style="position:absolute;left:1548.60px;top:1133.08px;width:600px;font-family:'Liberation Serif', serif;font-size:19.6px;line-height:23.52px;color:#000;font-weight:normal;font-style:normal;text-align:right;">86.0</div>
<div style="position:absolute;left:1698.40px;top:1133.08px;width:600px;font-family:'Liberation Serif', serif;font-size:19.6px;line-height:23.52px;color:#000;font-weight:normal;font-style:normal;text-align:right;">11.5 (3.1)</div>
<div style="position:absolute;left:1799.40px;top:1133.08px;width:600px;font-family:'Liberation Serif', serif;font-size:19.6px;line-height:23.52px;color:#000;font-weight:normal;font-style:normal;text-align:right;">27.9 (7.4)</div>
<div style="position:absolute;left:1745.20px;top:1154.72px;white-space:nowrap;font-family:'Liberation Serif', serif;font-size:19.6px;line-height:23.52px;color:#000;font-weight:bold;font-style:normal;text-align:left;">BERT<span style="font-size:13.8px;position:relative;top:3.0px;line-height:0">BASE</span>/GPT2<span style="font-size:13.8px;position:relative;top:3.0px;line-height:0">MEDIUM</span></div>
<div style="position:absolute;left:1976.40px;top:1154.72px;white-space:nowrap;font-family:'Liberation Serif', serif;font-size:19.6px;line-height:23.52px;color:#000;font-weight:normal;font-style:normal;text-align:left;">3.51*</div>
<div style="position:absolute;left:1548.60px;top:1154.72px;width:600px;font-family:'Liberation Serif', serif;font-size:19.6px;line-height:23.52px;color:#000;font-weight:normal;font-style:normal;text-align:right;">88.6</div>
<div style="position:absolute;left:1698.40px;top:1154.72px;width:600px;font-family:'Liberation Serif', serif;font-size:19.6px;line-height:23.52px;color:#000;font-weight:normal;font-style:normal;text-align:right;">9.5 (3.1)</div>
<div style="position:absolute;left:1799.40px;top:1154.72px;width:600px;font-family:'Liberation Serif', serif;font-size:19.6px;line-height:23.52px;color:#000;font-weight:normal;font-style:normal;text-align:right;">24.5 (8.0)</div>
<div style="position:absolute;left:1745.20px;top:1176.38px;white-space:nowrap;font-family:'Liberation Serif', serif;font-size:19.6px;line-height:23.52px;color:#000;font-weight:bold;font-style:normal;text-align:left;">T5<span style="font-size:13.8px;position:relative;top:3.0px;line-height:0">LARGE</span>/GPT2<span style="font-size:13.8px;position:relative;top:3.0px;line-height:0">MEDIUM</span></div>
<div style="position:absolute;left:1976.40px;top:1176.38px;white-space:nowrap;font-family:'Liberation Serif', serif;font-size:19.6px;line-height:23.52px;color:#000;font-weight:normal;font-style:normal;text-align:left;">1.44</div>
<div style="position:absolute;left:1548.60px;top:1176.38px;width:600px;font-family:'Liberation Serif', serif;font-size:19.6px;line-height:23.52px;color:#000;font-weight:normal;font-style:normal;text-align:right;">73.3</div>
<div style="position:absolute;left:1698.40px;top:1176.38px;width:600px;font-family:'Liberation Serif', serif;font-size:19.6px;line-height:23.52px;color:#000;font-weight:normal;font-style:normal;text-align:right;">9.7 (2.4)</div>
<div style="position:absolute;left:1799.40px;top:1176.38px;width:600px;font-family:'Liberation Serif', serif;font-size:19.6px;line-height:23.52px;color:#000;font-weight:normal;font-style:normal;text-align:right;">35.8 (9.0)</div>
<div style="position:absolute;left:1488.40px;top:1230.17px;width:1200px;font-family:'Liberation Sans', sans-serif;font-size:12.5px;line-height:15.0px;color:#2e4353;font-weight:normal;font-style:normal;text-align:center;">Accuracy after dropping the token in each position of an AutoPrompt-generated 5-token prompt</div>
<div style="position:absolute;left:1327.40px;top:1477.26px;width:1200px;font-family:'Liberation Serif', serif;font-size:21.7px;line-height:26.04px;color:#111;font-weight:normal;font-style:normal;text-align:center;">(a) BERT<span style="font-size:15.2px;position:relative;top:3.4px;line-height:0">BASE</span></div>
<div style="position:absolute;left:1624.10px;top:1477.26px;width:1200px;font-family:'Liberation Serif', serif;font-size:21.7px;line-height:26.04px;color:#111;font-weight:normal;font-style:normal;text-align:center;">(b) BERT<span style="font-size:15.2px;position:relative;top:3.4px;line-height:0">BASE</span>/T5<span style="font-size:15.2px;position:relative;top:3.4px;line-height:0">LARGE</span></div>
<!-- qr -->
<svg style="position:absolute;left:2342.15px;top:1508.7px;width:126.67px;height:126.67px" viewBox="0 0 29 29" shape-rendering="crispEdges"><path d="M0,0h7v1h-7zM9,0h1v1h-1zM12,0h4v1h-4zM19,0h1v1h-1zM22,0h7v1h-7zM0,1h1v1h-1zM6,1h1v1h-1zM10,1h3v1h-3zM14,1h3v1h-3zM19,1h2v1h-2zM22,1h1v1h-1zM28,1h1v1h-1zM0,2h1v1h-1zM2,2h3v1h-3zM6,2h1v1h-1zM8,2h3v1h-3zM12,2h1v1h-1zM14,2h1v1h-1zM18,2h1v1h-1zM20,2h1v1h-1zM22,2h1v1h-1zM24,2h3v1h-3zM28,2h1v1h-1zM0,3h1v1h-1zM2,3h3v1h-3zM6,3h1v1h-1zM9,3h3v1h-3zM14,3h2v1h-2zM18,3h2v1h-2zM22,3h1v1h-1zM24,3h3v1h-3zM28,3h1v1h-1zM0,4h1v1h-1zM2,4h3v1h-3zM6,4h1v1h-1zM10,4h1v1h-1zM14,4h2v1h-2zM19,4h1v1h-1zM22,4h1v1h-1zM24,4h3v1h-3zM28,4h1v1h-1zM0,5h1v1h-1zM6,5h1v1h-1zM9,5h1v1h-1zM13,5h4v1h-4zM19,5h2v1h-2zM22,5h1v1h-1zM28,5h1v1h-1zM0,6h7v1h-7zM8,6h1v1h-1zM10,6h1v1h-1zM12,6h1v1h-1zM14,6h1v1h-1zM16,6h1v1h-1zM18,6h1v1h-1zM20,6h1v1h-1zM22,6h7v1h-7zM8,7h3v1h-3zM12,7h3v1h-3zM16,7h2v1h-2zM0,8h3v1h-3zM4,8h5v1h-5zM10,8h4v1h-4zM16,8h2v1h-2zM20,8h3v1h-3zM26,8h1v1h-1zM0,9h2v1h-2zM4,9h2v1h-2zM7,9h1v1h-1zM10,9h2v1h-2zM13,9h2v1h-2zM16,9h2v1h-2zM20,9h1v1h-1zM22,9h1v1h-1zM25,9h1v1h-1zM28,9h1v1h-1zM0,10h2v1h-2zM3,10h1v1h-1zM6,10h2v1h-2zM9,10h1v1h-1zM12,10h3v1h-3zM18,10h1v1h-1zM20,10h3v1h-3zM24,10h1v1h-1zM26,10h3v1h-3zM1,11h1v1h-1zM3,11h2v1h-2zM12,11h2v1h-2zM16,11h3v1h-3zM20,11h1v1h-1zM23,11h2v1h-2zM27,11h1v1h-1zM1,12h1v1h-1zM3,12h1v1h-1zM6,12h1v1h-1zM11,12h3v1h-3zM15,12h1v1h-1zM17,12h1v1h-1zM19,12h4v1h-4zM25,12h1v1h-1zM27,12h2v1h-2zM0,13h4v1h-4zM5,13h1v1h-1zM8,13h2v1h-2zM12,13h2v1h-2zM15,13h2v1h-2zM18,13h1v1h-1zM20,13h3v1h-3zM25,13h1v1h-1zM28,13h1v1h-1zM0,14h1v1h-1zM2,14h1v1h-1zM4,14h5v1h-5zM10,14h1v1h-1zM14,14h1v1h-1zM16,14h3v1h-3zM22,14h1v1h-1zM24,14h2v1h-2zM27,14h2v1h-2zM0,15h6v1h-6zM7,15h1v1h-1zM9,15h1v1h-1zM12,15h6v1h-6zM20,15h3v1h-3zM25,15h1v1h-1zM27,15h1v1h-1zM2,16h2v1h-2zM5,16h2v1h-2zM10,16h4v1h-4zM17,16h4v1h-4zM22,16h2v1h-2zM25,16h1v1h-1zM27,16h2v1h-2zM3,17h1v1h-1zM5,17h1v1h-1zM7,17h1v1h-1zM9,17h1v1h-1zM12,17h1v1h-1zM16,17h1v1h-1zM21,17h2v1h-2zM25,17h2v1h-2zM28,17h1v1h-1zM0,18h1v1h-1zM6,18h1v1h-1zM16,18h2v1h-2zM21,18h1v1h-1zM23,18h2v1h-2zM27,18h2v1h-2zM1,19h2v1h-2zM5,19h1v1h-1zM7,19h1v1h-1zM9,19h3v1h-3zM13,19h1v1h-1zM15,19h1v1h-1zM17,19h9v1h-9zM27,19h1v1h-1zM0,20h1v1h-1zM2,20h5v1h-5zM10,20h4v1h-4zM17,20h1v1h-1zM19,20h6v1h-6zM8,21h1v1h-1zM12,21h1v1h-1zM16,21h5v1h-5zM24,21h1v1h-1zM26,21h3v1h-3zM0,22h7v1h-7zM8,22h1v1h-1zM10,22h1v1h-1zM12,22h1v1h-1zM14,22h1v1h-1zM18,22h3v1h-3zM22,22h1v1h-1zM24,22h2v1h-2zM27,22h2v1h-2zM0,23h1v1h-1zM6,23h1v1h-1zM8,23h1v1h-1zM10,23h8v1h-8zM20,23h1v1h-1zM24,23h2v1h-2zM27,23h1v1h-1zM0,24h1v1h-1zM2,24h3v1h-3zM6,24h1v1h-1zM8,24h1v1h-1zM13,24h1v1h-1zM15,24h3v1h-3zM20,24h5v1h-5zM28,24h1v1h-1zM0,25h1v1h-1zM2,25h3v1h-3zM6,25h1v1h-1zM12,25h1v1h-1zM14,25h1v1h-1zM16,25h3v1h-3zM20,25h1v1h-1zM23,25h2v1h-2zM26,25h1v1h-1zM28,25h1v1h-1zM0,26h1v1h-1zM2,26h3v1h-3zM6,26h1v1h-1zM8,26h2v1h-2zM13,26h2v1h-2zM17,26h3v1h-3zM23,26h3v1h-3zM28,26h1v1h-1zM0,27h1v1h-1zM6,27h1v1h-1zM8,27h1v1h-1zM10,27h2v1h-2zM13,27h1v1h-1zM16,27h2v1h-2zM19,27h3v1h-3zM24,27h1v1h-1zM27,27h1v1h-1zM0,28h7v1h-7zM8,28h1v1h-1zM12,28h2v1h-2zM15,28h3v1h-3zM19,28h3v1h-3zM23,28h2v1h-2zM27,28h2v1h-2z" fill="#000"/></svg>
</div>
</body></html>
